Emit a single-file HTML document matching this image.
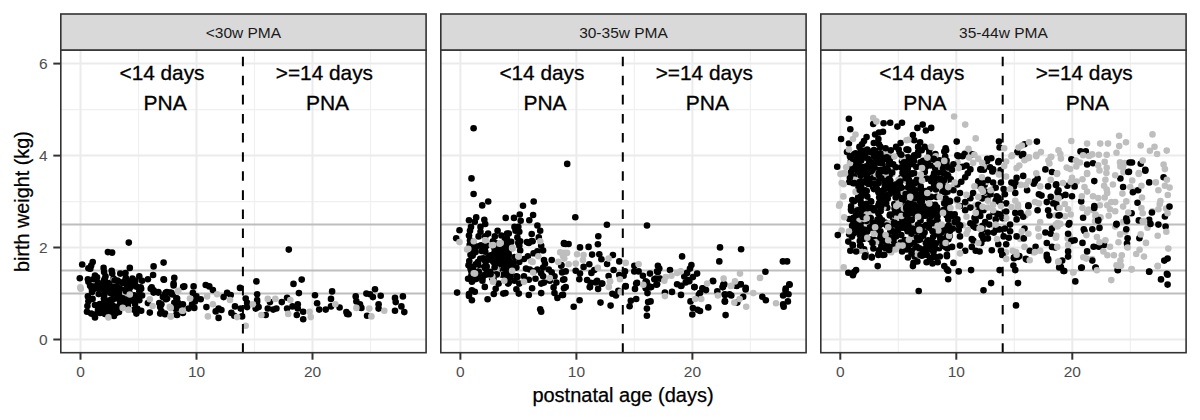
<!DOCTYPE html>
<html><head><meta charset="utf-8"><style>
html,body{margin:0;padding:0;background:#fff;width:1200px;height:420px;overflow:hidden}
svg{display:block}
text{font-family:"Liberation Sans",sans-serif}
</style></head><body>
<svg width="1200" height="420" viewBox="0 0 1200 420">
<rect width="1200" height="420" fill="#fff"/>
<line x1="138.5" y1="50.0" x2="138.5" y2="352.7" stroke="#F0F0F0" stroke-width="1.2"/>
<line x1="254.5" y1="50.0" x2="254.5" y2="352.7" stroke="#F0F0F0" stroke-width="1.2"/>
<line x1="370.5" y1="50.0" x2="370.5" y2="352.7" stroke="#F0F0F0" stroke-width="1.2"/>
<line x1="60.8" y1="293.5" x2="426.1" y2="293.5" stroke="#F0F0F0" stroke-width="1.2"/>
<line x1="60.8" y1="201.6" x2="426.1" y2="201.6" stroke="#F0F0F0" stroke-width="1.2"/>
<line x1="60.8" y1="109.6" x2="426.1" y2="109.6" stroke="#F0F0F0" stroke-width="1.2"/>
<line x1="80.5" y1="50.0" x2="80.5" y2="352.7" stroke="#EBEBEB" stroke-width="2"/>
<line x1="196.5" y1="50.0" x2="196.5" y2="352.7" stroke="#EBEBEB" stroke-width="2"/>
<line x1="312.5" y1="50.0" x2="312.5" y2="352.7" stroke="#EBEBEB" stroke-width="2"/>
<line x1="60.8" y1="339.5" x2="426.1" y2="339.5" stroke="#EBEBEB" stroke-width="2"/>
<line x1="60.8" y1="247.5" x2="426.1" y2="247.5" stroke="#EBEBEB" stroke-width="2"/>
<line x1="60.8" y1="155.6" x2="426.1" y2="155.6" stroke="#EBEBEB" stroke-width="2"/>
<line x1="60.8" y1="63.6" x2="426.1" y2="63.6" stroke="#EBEBEB" stroke-width="2"/>
<line x1="60.8" y1="293.5" x2="426.1" y2="293.5" stroke="#BEBEBE" stroke-width="2"/>
<line x1="60.8" y1="270.5" x2="426.1" y2="270.5" stroke="#BEBEBE" stroke-width="2"/>
<line x1="60.8" y1="224.6" x2="426.1" y2="224.6" stroke="#BEBEBE" stroke-width="2"/>
<g id="pts0"></g>
<circle cx="96.4" cy="288.3" r="3.3" fill="#000"/>
<circle cx="90.1" cy="285.8" r="3.3" fill="#000"/>
<circle cx="124.5" cy="282.6" r="3.3" fill="#000"/>
<circle cx="113.6" cy="278.6" r="3.3" fill="#000"/>
<circle cx="92.6" cy="289.2" r="3.3" fill="#000"/>
<circle cx="100.8" cy="289.6" r="3.3" fill="#000"/>
<circle cx="110.1" cy="283.9" r="3.3" fill="#000"/>
<circle cx="132.3" cy="299.3" r="3.3" fill="#000"/>
<circle cx="104.0" cy="298.7" r="3.3" fill="#000"/>
<circle cx="99.9" cy="284.8" r="3.3" fill="#000"/>
<circle cx="123.9" cy="286.8" r="3.3" fill="#BEBEBE"/>
<circle cx="113.6" cy="298.9" r="3.3" fill="#000"/>
<circle cx="125.2" cy="292.3" r="3.3" fill="#000"/>
<circle cx="107.8" cy="300.8" r="3.3" fill="#000"/>
<circle cx="95.1" cy="288.7" r="3.3" fill="#000"/>
<circle cx="136.6" cy="286.7" r="3.3" fill="#000"/>
<circle cx="115.0" cy="285.2" r="3.3" fill="#000"/>
<circle cx="103.1" cy="283.8" r="3.3" fill="#000"/>
<circle cx="110.7" cy="300.0" r="3.3" fill="#000"/>
<circle cx="122.0" cy="290.0" r="3.3" fill="#000"/>
<circle cx="121.8" cy="292.3" r="3.3" fill="#000"/>
<circle cx="128.1" cy="282.9" r="3.3" fill="#BEBEBE"/>
<circle cx="92.8" cy="286.5" r="3.3" fill="#000"/>
<circle cx="132.4" cy="278.5" r="3.3" fill="#000"/>
<circle cx="106.1" cy="288.4" r="3.3" fill="#000"/>
<circle cx="122.8" cy="282.9" r="3.3" fill="#000"/>
<circle cx="124.5" cy="281.3" r="3.3" fill="#000"/>
<circle cx="111.0" cy="293.4" r="3.3" fill="#000"/>
<circle cx="93.3" cy="279.2" r="3.3" fill="#000"/>
<circle cx="103.4" cy="283.1" r="3.3" fill="#000"/>
<circle cx="118.8" cy="299.1" r="3.3" fill="#000"/>
<circle cx="92.6" cy="298.9" r="3.3" fill="#000"/>
<circle cx="97.9" cy="282.6" r="3.3" fill="#000"/>
<circle cx="104.7" cy="292.9" r="3.3" fill="#000"/>
<circle cx="117.6" cy="287.7" r="3.3" fill="#000"/>
<circle cx="134.1" cy="295.2" r="3.3" fill="#000"/>
<circle cx="116.1" cy="291.3" r="3.3" fill="#000"/>
<circle cx="117.4" cy="280.6" r="3.3" fill="#000"/>
<circle cx="125.9" cy="299.3" r="3.3" fill="#000"/>
<circle cx="112.9" cy="293.7" r="3.3" fill="#000"/>
<circle cx="91.7" cy="288.4" r="3.3" fill="#000"/>
<circle cx="98.3" cy="294.1" r="3.3" fill="#BEBEBE"/>
<circle cx="126.0" cy="292.7" r="3.3" fill="#000"/>
<circle cx="121.0" cy="299.0" r="3.3" fill="#000"/>
<circle cx="114.2" cy="281.2" r="3.3" fill="#000"/>
<circle cx="104.2" cy="295.3" r="3.3" fill="#000"/>
<circle cx="98.8" cy="294.0" r="3.3" fill="#000"/>
<circle cx="106.3" cy="286.8" r="3.3" fill="#000"/>
<circle cx="107.2" cy="289.2" r="3.3" fill="#000"/>
<circle cx="100.8" cy="287.2" r="3.3" fill="#000"/>
<circle cx="110.2" cy="291.1" r="3.3" fill="#000"/>
<circle cx="104.0" cy="280.8" r="3.3" fill="#000"/>
<circle cx="132.0" cy="281.3" r="3.3" fill="#000"/>
<circle cx="92.0" cy="291.9" r="3.3" fill="#000"/>
<circle cx="97.4" cy="287.8" r="3.3" fill="#000"/>
<circle cx="110.7" cy="288.0" r="3.3" fill="#000"/>
<circle cx="136.2" cy="297.4" r="3.3" fill="#000"/>
<circle cx="135.4" cy="280.7" r="3.3" fill="#000"/>
<circle cx="119.2" cy="297.8" r="3.3" fill="#000"/>
<circle cx="112.7" cy="289.3" r="3.3" fill="#000"/>
<circle cx="134.7" cy="284.8" r="3.3" fill="#000"/>
<circle cx="134.9" cy="284.0" r="3.3" fill="#000"/>
<circle cx="104.1" cy="298.2" r="3.3" fill="#000"/>
<circle cx="116.7" cy="297.2" r="3.3" fill="#000"/>
<circle cx="129.3" cy="292.0" r="3.3" fill="#000"/>
<circle cx="125.8" cy="277.7" r="3.3" fill="#000"/>
<circle cx="136.4" cy="299.6" r="3.3" fill="#000"/>
<circle cx="119.5" cy="288.3" r="3.3" fill="#000"/>
<circle cx="130.5" cy="296.5" r="3.3" fill="#000"/>
<circle cx="120.1" cy="295.4" r="3.3" fill="#000"/>
<circle cx="110.9" cy="282.9" r="3.3" fill="#000"/>
<circle cx="115.3" cy="282.8" r="3.3" fill="#000"/>
<circle cx="114.9" cy="284.1" r="3.3" fill="#000"/>
<circle cx="105.7" cy="282.1" r="3.3" fill="#000"/>
<circle cx="113.6" cy="280.4" r="3.3" fill="#BEBEBE"/>
<circle cx="109.0" cy="283.6" r="3.3" fill="#000"/>
<circle cx="127.4" cy="284.6" r="3.3" fill="#000"/>
<circle cx="94.8" cy="286.5" r="3.3" fill="#000"/>
<circle cx="125.4" cy="293.3" r="3.3" fill="#BEBEBE"/>
<circle cx="131.7" cy="283.2" r="3.3" fill="#000"/>
<circle cx="163.6" cy="279.3" r="3.3" fill="#000"/>
<circle cx="174.3" cy="277.9" r="3.3" fill="#000"/>
<circle cx="173.6" cy="283.6" r="3.3" fill="#000"/>
<circle cx="184.3" cy="286.4" r="3.3" fill="#000"/>
<circle cx="193.6" cy="286.4" r="3.3" fill="#000"/>
<circle cx="205.7" cy="285.0" r="3.3" fill="#000"/>
<circle cx="209.3" cy="286.4" r="3.3" fill="#000"/>
<circle cx="212.9" cy="290.0" r="3.3" fill="#000"/>
<circle cx="240.0" cy="287.9" r="3.3" fill="#000"/>
<circle cx="227.1" cy="292.9" r="3.3" fill="#000"/>
<circle cx="230.7" cy="295.0" r="3.3" fill="#000"/>
<circle cx="223.6" cy="297.1" r="3.3" fill="#000"/>
<circle cx="256.4" cy="281.4" r="3.3" fill="#000"/>
<circle cx="206.4" cy="307.1" r="3.3" fill="#000"/>
<circle cx="218.6" cy="308.6" r="3.3" fill="#000"/>
<circle cx="215.7" cy="311.4" r="3.3" fill="#000"/>
<circle cx="221.4" cy="310.0" r="3.3" fill="#000"/>
<circle cx="218.6" cy="317.9" r="3.3" fill="#000"/>
<circle cx="235.0" cy="306.4" r="3.3" fill="#000"/>
<circle cx="231.4" cy="312.9" r="3.3" fill="#000"/>
<circle cx="234.3" cy="315.7" r="3.3" fill="#000"/>
<circle cx="240.7" cy="308.6" r="3.3" fill="#000"/>
<circle cx="242.1" cy="316.4" r="3.3" fill="#000"/>
<circle cx="245.7" cy="298.6" r="3.3" fill="#000"/>
<circle cx="247.1" cy="302.9" r="3.3" fill="#000"/>
<circle cx="247.1" cy="307.1" r="3.3" fill="#000"/>
<circle cx="255.7" cy="308.6" r="3.3" fill="#000"/>
<circle cx="258.6" cy="307.1" r="3.3" fill="#000"/>
<circle cx="257.1" cy="294.3" r="3.3" fill="#000"/>
<circle cx="257.1" cy="300.0" r="3.3" fill="#000"/>
<circle cx="165.7" cy="292.9" r="3.3" fill="#000"/>
<circle cx="171.4" cy="292.9" r="3.3" fill="#000"/>
<circle cx="162.9" cy="297.1" r="3.3" fill="#000"/>
<circle cx="167.1" cy="298.6" r="3.3" fill="#000"/>
<circle cx="177.1" cy="298.6" r="3.3" fill="#000"/>
<circle cx="192.9" cy="292.9" r="3.3" fill="#000"/>
<circle cx="196.4" cy="296.4" r="3.3" fill="#000"/>
<circle cx="200.7" cy="299.3" r="3.3" fill="#000"/>
<circle cx="195.0" cy="301.4" r="3.3" fill="#000"/>
<circle cx="192.1" cy="304.3" r="3.3" fill="#000"/>
<circle cx="194.3" cy="307.9" r="3.3" fill="#000"/>
<circle cx="188.6" cy="308.6" r="3.3" fill="#000"/>
<circle cx="174.3" cy="302.9" r="3.3" fill="#000"/>
<circle cx="178.6" cy="304.3" r="3.3" fill="#000"/>
<circle cx="182.9" cy="304.3" r="3.3" fill="#000"/>
<circle cx="175.7" cy="307.9" r="3.3" fill="#000"/>
<circle cx="180.0" cy="308.6" r="3.3" fill="#000"/>
<circle cx="161.4" cy="304.3" r="3.3" fill="#000"/>
<circle cx="161.4" cy="311.4" r="3.3" fill="#000"/>
<circle cx="165.0" cy="314.3" r="3.3" fill="#000"/>
<circle cx="177.1" cy="315.0" r="3.3" fill="#000"/>
<circle cx="182.9" cy="312.9" r="3.3" fill="#000"/>
<circle cx="288.8" cy="249.6" r="3.3" fill="#000"/>
<circle cx="301.7" cy="279.6" r="3.3" fill="#000"/>
<circle cx="293.5" cy="283.9" r="3.3" fill="#000"/>
<circle cx="298.9" cy="293.1" r="3.3" fill="#000"/>
<circle cx="315.0" cy="295.2" r="3.3" fill="#000"/>
<circle cx="332.1" cy="291.4" r="3.3" fill="#000"/>
<circle cx="331.0" cy="298.9" r="3.3" fill="#000"/>
<circle cx="257.1" cy="302.1" r="3.3" fill="#000"/>
<circle cx="270.0" cy="302.1" r="3.3" fill="#000"/>
<circle cx="267.8" cy="308.5" r="3.3" fill="#000"/>
<circle cx="265.7" cy="315.0" r="3.3" fill="#000"/>
<circle cx="276.4" cy="308.5" r="3.3" fill="#000"/>
<circle cx="273.2" cy="309.6" r="3.3" fill="#000"/>
<circle cx="281.8" cy="302.1" r="3.3" fill="#000"/>
<circle cx="287.1" cy="297.8" r="3.3" fill="#000"/>
<circle cx="287.1" cy="308.5" r="3.3" fill="#000"/>
<circle cx="292.5" cy="306.4" r="3.3" fill="#000"/>
<circle cx="297.8" cy="304.2" r="3.3" fill="#000"/>
<circle cx="297.8" cy="308.5" r="3.3" fill="#000"/>
<circle cx="296.8" cy="315.0" r="3.3" fill="#000"/>
<circle cx="303.2" cy="311.7" r="3.3" fill="#000"/>
<circle cx="303.2" cy="319.2" r="3.3" fill="#000"/>
<circle cx="317.1" cy="303.2" r="3.3" fill="#000"/>
<circle cx="319.2" cy="309.6" r="3.3" fill="#000"/>
<circle cx="325.7" cy="309.6" r="3.3" fill="#000"/>
<circle cx="331.0" cy="306.4" r="3.3" fill="#000"/>
<circle cx="339.6" cy="307.5" r="3.3" fill="#000"/>
<circle cx="347.1" cy="313.9" r="3.3" fill="#000"/>
<circle cx="346.4" cy="312.1" r="3.3" fill="#000"/>
<circle cx="348.6" cy="314.3" r="3.3" fill="#000"/>
<circle cx="355.7" cy="296.4" r="3.3" fill="#000"/>
<circle cx="356.4" cy="301.4" r="3.3" fill="#000"/>
<circle cx="360.0" cy="304.3" r="3.3" fill="#000"/>
<circle cx="361.4" cy="307.9" r="3.3" fill="#000"/>
<circle cx="366.4" cy="293.6" r="3.3" fill="#000"/>
<circle cx="370.0" cy="294.3" r="3.3" fill="#000"/>
<circle cx="372.9" cy="297.1" r="3.3" fill="#000"/>
<circle cx="375.0" cy="289.3" r="3.3" fill="#000"/>
<circle cx="380.7" cy="295.7" r="3.3" fill="#000"/>
<circle cx="378.6" cy="304.3" r="3.3" fill="#000"/>
<circle cx="378.6" cy="308.6" r="3.3" fill="#000"/>
<circle cx="367.1" cy="315.7" r="3.3" fill="#000"/>
<circle cx="395.0" cy="297.9" r="3.3" fill="#000"/>
<circle cx="395.7" cy="302.1" r="3.3" fill="#000"/>
<circle cx="402.9" cy="296.4" r="3.3" fill="#000"/>
<circle cx="401.4" cy="306.4" r="3.3" fill="#000"/>
<circle cx="395.0" cy="310.7" r="3.3" fill="#000"/>
<circle cx="404.3" cy="312.1" r="3.3" fill="#000"/>
<circle cx="82.2" cy="264.5" r="3.3" fill="#000"/>
<circle cx="92.7" cy="262.1" r="3.3" fill="#000"/>
<circle cx="91.2" cy="265.5" r="3.3" fill="#000"/>
<circle cx="88.4" cy="268.3" r="3.3" fill="#000"/>
<circle cx="90.3" cy="268.8" r="3.3" fill="#000"/>
<circle cx="103.6" cy="267.9" r="3.3" fill="#000"/>
<circle cx="104.1" cy="272.1" r="3.3" fill="#000"/>
<circle cx="111.7" cy="270.7" r="3.3" fill="#000"/>
<circle cx="112.2" cy="273.6" r="3.3" fill="#000"/>
<circle cx="120.3" cy="273.6" r="3.3" fill="#000"/>
<circle cx="125.5" cy="273.1" r="3.3" fill="#000"/>
<circle cx="129.8" cy="267.9" r="3.3" fill="#000"/>
<circle cx="79.8" cy="278.3" r="3.3" fill="#000"/>
<circle cx="87.9" cy="279.3" r="3.3" fill="#000"/>
<circle cx="88.4" cy="281.7" r="3.3" fill="#000"/>
<circle cx="95.0" cy="275.5" r="3.3" fill="#000"/>
<circle cx="97.0" cy="277.4" r="3.3" fill="#000"/>
<circle cx="105.5" cy="276.4" r="3.3" fill="#000"/>
<circle cx="104.6" cy="279.3" r="3.3" fill="#000"/>
<circle cx="114.6" cy="280.2" r="3.3" fill="#000"/>
<circle cx="118.9" cy="281.7" r="3.3" fill="#000"/>
<circle cx="127.9" cy="281.2" r="3.3" fill="#000"/>
<circle cx="87.9" cy="296.4" r="3.3" fill="#000"/>
<circle cx="88.4" cy="301.2" r="3.3" fill="#000"/>
<circle cx="87.4" cy="306.0" r="3.3" fill="#000"/>
<circle cx="87.0" cy="311.7" r="3.3" fill="#000"/>
<circle cx="91.2" cy="313.6" r="3.3" fill="#000"/>
<circle cx="95.0" cy="317.4" r="3.3" fill="#000"/>
<circle cx="94.1" cy="314.5" r="3.3" fill="#000"/>
<circle cx="95.0" cy="305.0" r="3.3" fill="#000"/>
<circle cx="99.8" cy="304.0" r="3.3" fill="#000"/>
<circle cx="103.6" cy="303.1" r="3.3" fill="#000"/>
<circle cx="103.6" cy="309.8" r="3.3" fill="#000"/>
<circle cx="101.7" cy="306.9" r="3.3" fill="#000"/>
<circle cx="109.3" cy="303.1" r="3.3" fill="#000"/>
<circle cx="112.2" cy="305.0" r="3.3" fill="#000"/>
<circle cx="115.0" cy="306.9" r="3.3" fill="#000"/>
<circle cx="116.0" cy="311.7" r="3.3" fill="#000"/>
<circle cx="113.1" cy="314.5" r="3.3" fill="#000"/>
<circle cx="117.9" cy="308.8" r="3.3" fill="#000"/>
<circle cx="107.4" cy="306.0" r="3.3" fill="#000"/>
<circle cx="123.6" cy="302.1" r="3.3" fill="#000"/>
<circle cx="127.4" cy="305.0" r="3.3" fill="#000"/>
<circle cx="129.3" cy="301.2" r="3.3" fill="#000"/>
<circle cx="134.1" cy="309.8" r="3.3" fill="#000"/>
<circle cx="135.0" cy="304.0" r="3.3" fill="#000"/>
<circle cx="122.7" cy="298.3" r="3.3" fill="#000"/>
<circle cx="133.1" cy="298.3" r="3.3" fill="#000"/>
<circle cx="153.6" cy="266.4" r="3.3" fill="#000"/>
<circle cx="163.6" cy="262.6" r="3.3" fill="#000"/>
<circle cx="139.3" cy="276.4" r="3.3" fill="#000"/>
<circle cx="153.1" cy="275.0" r="3.3" fill="#000"/>
<circle cx="147.9" cy="279.3" r="3.3" fill="#000"/>
<circle cx="142.1" cy="280.7" r="3.3" fill="#000"/>
<circle cx="164.0" cy="279.8" r="3.3" fill="#000"/>
<circle cx="128.8" cy="287.4" r="3.3" fill="#000"/>
<circle cx="126.0" cy="291.2" r="3.3" fill="#000"/>
<circle cx="140.7" cy="287.4" r="3.3" fill="#000"/>
<circle cx="139.3" cy="291.2" r="3.3" fill="#000"/>
<circle cx="151.7" cy="287.4" r="3.3" fill="#000"/>
<circle cx="153.6" cy="290.2" r="3.3" fill="#000"/>
<circle cx="158.3" cy="292.1" r="3.3" fill="#000"/>
<circle cx="166.9" cy="292.1" r="3.3" fill="#000"/>
<circle cx="126.9" cy="287.9" r="3.3" fill="#000"/>
<circle cx="130.7" cy="286.9" r="3.3" fill="#000"/>
<circle cx="126.9" cy="301.2" r="3.3" fill="#000"/>
<circle cx="127.9" cy="306.0" r="3.3" fill="#000"/>
<circle cx="137.4" cy="296.4" r="3.3" fill="#000"/>
<circle cx="139.3" cy="300.2" r="3.3" fill="#000"/>
<circle cx="142.1" cy="295.5" r="3.3" fill="#000"/>
<circle cx="141.2" cy="288.8" r="3.3" fill="#000"/>
<circle cx="137.4" cy="308.8" r="3.3" fill="#000"/>
<circle cx="141.2" cy="310.7" r="3.3" fill="#000"/>
<circle cx="136.4" cy="313.6" r="3.3" fill="#000"/>
<circle cx="147.9" cy="303.1" r="3.3" fill="#000"/>
<circle cx="149.8" cy="312.6" r="3.3" fill="#000"/>
<circle cx="150.7" cy="288.8" r="3.3" fill="#000"/>
<circle cx="153.6" cy="292.6" r="3.3" fill="#000"/>
<circle cx="158.3" cy="292.6" r="3.3" fill="#000"/>
<circle cx="159.3" cy="303.1" r="3.3" fill="#000"/>
<circle cx="160.2" cy="306.9" r="3.3" fill="#000"/>
<circle cx="160.2" cy="313.6" r="3.3" fill="#000"/>
<circle cx="165.0" cy="313.6" r="3.3" fill="#000"/>
<circle cx="165.0" cy="294.5" r="3.3" fill="#000"/>
<circle cx="169.8" cy="292.6" r="3.3" fill="#000"/>
<circle cx="172.6" cy="294.5" r="3.3" fill="#000"/>
<circle cx="166.0" cy="299.3" r="3.3" fill="#000"/>
<circle cx="176.4" cy="298.3" r="3.3" fill="#000"/>
<circle cx="178.3" cy="303.1" r="3.3" fill="#000"/>
<circle cx="182.1" cy="305.0" r="3.3" fill="#000"/>
<circle cx="175.5" cy="308.8" r="3.3" fill="#000"/>
<circle cx="176.4" cy="314.5" r="3.3" fill="#000"/>
<circle cx="173.6" cy="285.5" r="3.3" fill="#000"/>
<circle cx="183.1" cy="286.9" r="3.3" fill="#000"/>
<circle cx="128.8" cy="242.6" r="3.3" fill="#000"/>
<circle cx="107.9" cy="252.1" r="3.3" fill="#000"/>
<circle cx="112.1" cy="252.6" r="3.3" fill="#000"/>
<circle cx="103.0" cy="310.0" r="3.3" fill="#000"/>
<circle cx="106.0" cy="312.0" r="3.3" fill="#000"/>
<circle cx="110.0" cy="310.0" r="3.3" fill="#000"/>
<circle cx="112.0" cy="313.0" r="3.3" fill="#000"/>
<circle cx="114.0" cy="316.0" r="3.3" fill="#000"/>
<circle cx="116.0" cy="313.0" r="3.3" fill="#000"/>
<circle cx="119.0" cy="312.0" r="3.3" fill="#000"/>
<circle cx="98.0" cy="310.0" r="3.3" fill="#000"/>
<circle cx="100.0" cy="313.0" r="3.3" fill="#000"/>
<circle cx="105.0" cy="314.0" r="3.3" fill="#000"/>
<circle cx="120.0" cy="304.0" r="3.3" fill="#000"/>
<circle cx="207.1" cy="296.4" r="3.3" fill="#BEBEBE"/>
<circle cx="217.1" cy="294.3" r="3.3" fill="#BEBEBE"/>
<circle cx="230.0" cy="300.0" r="3.3" fill="#BEBEBE"/>
<circle cx="212.9" cy="304.3" r="3.3" fill="#BEBEBE"/>
<circle cx="207.9" cy="316.4" r="3.3" fill="#BEBEBE"/>
<circle cx="237.1" cy="317.1" r="3.3" fill="#BEBEBE"/>
<circle cx="252.9" cy="304.3" r="3.3" fill="#BEBEBE"/>
<circle cx="245.7" cy="325.7" r="3.3" fill="#BEBEBE"/>
<circle cx="177.9" cy="291.4" r="3.3" fill="#BEBEBE"/>
<circle cx="190.0" cy="298.6" r="3.3" fill="#BEBEBE"/>
<circle cx="170.7" cy="307.9" r="3.3" fill="#BEBEBE"/>
<circle cx="182.9" cy="310.7" r="3.3" fill="#BEBEBE"/>
<circle cx="170.7" cy="316.4" r="3.3" fill="#BEBEBE"/>
<circle cx="267.8" cy="298.9" r="3.3" fill="#BEBEBE"/>
<circle cx="275.3" cy="298.9" r="3.3" fill="#BEBEBE"/>
<circle cx="261.4" cy="315.0" r="3.3" fill="#BEBEBE"/>
<circle cx="290.3" cy="300.0" r="3.3" fill="#BEBEBE"/>
<circle cx="288.2" cy="313.9" r="3.3" fill="#BEBEBE"/>
<circle cx="309.6" cy="311.7" r="3.3" fill="#BEBEBE"/>
<circle cx="310.7" cy="317.1" r="3.3" fill="#BEBEBE"/>
<circle cx="335.3" cy="304.2" r="3.3" fill="#BEBEBE"/>
<circle cx="356.4" cy="307.9" r="3.3" fill="#BEBEBE"/>
<circle cx="369.3" cy="308.6" r="3.3" fill="#BEBEBE"/>
<circle cx="384.3" cy="310.7" r="3.3" fill="#BEBEBE"/>
<circle cx="371.4" cy="316.4" r="3.3" fill="#BEBEBE"/>
<circle cx="80.3" cy="287.4" r="3.3" fill="#BEBEBE"/>
<circle cx="108.4" cy="317.4" r="3.3" fill="#BEBEBE"/>
<circle cx="80.8" cy="288.8" r="3.3" fill="#BEBEBE"/>
<circle cx="122.7" cy="307.9" r="3.3" fill="#BEBEBE"/>
<circle cx="128.4" cy="309.8" r="3.3" fill="#BEBEBE"/>
<circle cx="129.8" cy="294.5" r="3.3" fill="#BEBEBE"/>
<circle cx="128.8" cy="309.8" r="3.3" fill="#BEBEBE"/>
<circle cx="149.8" cy="299.3" r="3.3" fill="#BEBEBE"/>
<circle cx="152.6" cy="306.0" r="3.3" fill="#BEBEBE"/>
<circle cx="169.8" cy="306.9" r="3.3" fill="#BEBEBE"/>
<circle cx="170.7" cy="316.4" r="3.3" fill="#BEBEBE"/>
<circle cx="182.1" cy="310.7" r="3.3" fill="#BEBEBE"/>
<circle cx="178.3" cy="290.7" r="3.3" fill="#BEBEBE"/>
<line x1="242.9" y1="352.7" x2="242.9" y2="50.0" stroke="#000" stroke-width="2" stroke-dasharray="9.55 9.55"/>
<text x="162.0" y="79.6" text-anchor="middle" font-size="20.8" fill="#000" stroke="#000" stroke-width="0.3">&lt;14 days</text>
<text x="165.1" y="110.2" text-anchor="middle" font-size="21" fill="#000" stroke="#000" stroke-width="0.3">PNA</text>
<text x="324.4" y="79.6" text-anchor="middle" font-size="20.8" fill="#000" stroke="#000" stroke-width="0.3">&gt;=14 days</text>
<text x="327.5" y="110.2" text-anchor="middle" font-size="21" fill="#000" stroke="#000" stroke-width="0.3">PNA</text>
<rect x="60.8" y="50.0" width="365.3" height="302.7" fill="none" stroke="#333" stroke-width="1.6"/>
<rect x="60.8" y="14.0" width="365.3" height="36.0" fill="#D9D9D9" stroke="#333" stroke-width="1.6"/>
<text x="243.4" y="37.8" text-anchor="middle" font-size="15.5" fill="#1A1A1A">&lt;30w PMA</text>
<line x1="80.5" y1="352.7" x2="80.5" y2="359.7" stroke="#333" stroke-width="2"/>
<text x="80.5" y="376.6" text-anchor="middle" font-size="15.5" fill="#4D4D4D">0</text>
<line x1="196.5" y1="352.7" x2="196.5" y2="359.7" stroke="#333" stroke-width="2"/>
<text x="196.5" y="376.6" text-anchor="middle" font-size="15.5" fill="#4D4D4D">10</text>
<line x1="312.5" y1="352.7" x2="312.5" y2="359.7" stroke="#333" stroke-width="2"/>
<text x="312.5" y="376.6" text-anchor="middle" font-size="15.5" fill="#4D4D4D">20</text>
<line x1="518.4" y1="50.0" x2="518.4" y2="352.7" stroke="#F0F0F0" stroke-width="1.2"/>
<line x1="634.4" y1="50.0" x2="634.4" y2="352.7" stroke="#F0F0F0" stroke-width="1.2"/>
<line x1="750.4" y1="50.0" x2="750.4" y2="352.7" stroke="#F0F0F0" stroke-width="1.2"/>
<line x1="440.8" y1="293.5" x2="806.1" y2="293.5" stroke="#F0F0F0" stroke-width="1.2"/>
<line x1="440.8" y1="201.6" x2="806.1" y2="201.6" stroke="#F0F0F0" stroke-width="1.2"/>
<line x1="440.8" y1="109.6" x2="806.1" y2="109.6" stroke="#F0F0F0" stroke-width="1.2"/>
<line x1="460.4" y1="50.0" x2="460.4" y2="352.7" stroke="#EBEBEB" stroke-width="2"/>
<line x1="576.4" y1="50.0" x2="576.4" y2="352.7" stroke="#EBEBEB" stroke-width="2"/>
<line x1="692.4" y1="50.0" x2="692.4" y2="352.7" stroke="#EBEBEB" stroke-width="2"/>
<line x1="440.8" y1="339.5" x2="806.1" y2="339.5" stroke="#EBEBEB" stroke-width="2"/>
<line x1="440.8" y1="247.5" x2="806.1" y2="247.5" stroke="#EBEBEB" stroke-width="2"/>
<line x1="440.8" y1="155.6" x2="806.1" y2="155.6" stroke="#EBEBEB" stroke-width="2"/>
<line x1="440.8" y1="63.6" x2="806.1" y2="63.6" stroke="#EBEBEB" stroke-width="2"/>
<line x1="440.8" y1="293.5" x2="806.1" y2="293.5" stroke="#BEBEBE" stroke-width="2"/>
<line x1="440.8" y1="270.5" x2="806.1" y2="270.5" stroke="#BEBEBE" stroke-width="2"/>
<line x1="440.8" y1="224.6" x2="806.1" y2="224.6" stroke="#BEBEBE" stroke-width="2"/>
<g id="pts1"></g>
<circle cx="469.3" cy="261.1" r="3.3" fill="#000"/>
<circle cx="478.4" cy="274.6" r="3.3" fill="#000"/>
<circle cx="480.6" cy="267.9" r="3.3" fill="#000"/>
<circle cx="496.8" cy="250.6" r="3.3" fill="#000"/>
<circle cx="470.6" cy="268.7" r="3.3" fill="#000"/>
<circle cx="470.5" cy="254.7" r="3.3" fill="#000"/>
<circle cx="475.1" cy="279.3" r="3.3" fill="#000"/>
<circle cx="499.1" cy="245.3" r="3.3" fill="#000"/>
<circle cx="468.5" cy="265.3" r="3.3" fill="#000"/>
<circle cx="484.5" cy="266.7" r="3.3" fill="#000"/>
<circle cx="498.9" cy="258.6" r="3.3" fill="#000"/>
<circle cx="488.1" cy="273.8" r="3.3" fill="#000"/>
<circle cx="470.8" cy="247.4" r="3.3" fill="#000"/>
<circle cx="493.5" cy="261.9" r="3.3" fill="#000"/>
<circle cx="482.2" cy="268.3" r="3.3" fill="#000"/>
<circle cx="472.7" cy="255.6" r="3.3" fill="#000"/>
<circle cx="476.5" cy="278.8" r="3.3" fill="#000"/>
<circle cx="502.4" cy="251.2" r="3.3" fill="#000"/>
<circle cx="480.8" cy="271.0" r="3.3" fill="#BEBEBE"/>
<circle cx="506.8" cy="270.7" r="3.3" fill="#000"/>
<circle cx="507.5" cy="257.1" r="3.3" fill="#BEBEBE"/>
<circle cx="480.6" cy="245.5" r="3.3" fill="#000"/>
<circle cx="497.7" cy="270.4" r="3.3" fill="#000"/>
<circle cx="494.5" cy="252.3" r="3.3" fill="#000"/>
<circle cx="495.9" cy="253.7" r="3.3" fill="#000"/>
<circle cx="475.4" cy="247.6" r="3.3" fill="#000"/>
<circle cx="499.1" cy="260.4" r="3.3" fill="#000"/>
<circle cx="473.6" cy="270.7" r="3.3" fill="#000"/>
<circle cx="507.9" cy="270.9" r="3.3" fill="#000"/>
<circle cx="506.4" cy="261.9" r="3.3" fill="#000"/>
<circle cx="503.6" cy="260.1" r="3.3" fill="#000"/>
<circle cx="475.8" cy="264.3" r="3.3" fill="#000"/>
<circle cx="499.2" cy="263.4" r="3.3" fill="#000"/>
<circle cx="497.3" cy="270.4" r="3.3" fill="#000"/>
<circle cx="484.8" cy="259.6" r="3.3" fill="#000"/>
<circle cx="487.0" cy="271.0" r="3.3" fill="#000"/>
<circle cx="503.4" cy="250.8" r="3.3" fill="#000"/>
<circle cx="503.8" cy="268.5" r="3.3" fill="#000"/>
<circle cx="471.4" cy="275.4" r="3.3" fill="#000"/>
<circle cx="502.0" cy="252.4" r="3.3" fill="#000"/>
<circle cx="484.3" cy="275.1" r="3.3" fill="#000"/>
<circle cx="499.4" cy="252.5" r="3.3" fill="#000"/>
<circle cx="507.4" cy="269.9" r="3.3" fill="#000"/>
<circle cx="477.9" cy="262.1" r="3.3" fill="#000"/>
<circle cx="502.2" cy="274.7" r="3.3" fill="#000"/>
<circle cx="481.9" cy="251.2" r="3.3" fill="#BEBEBE"/>
<circle cx="476.7" cy="276.5" r="3.3" fill="#000"/>
<circle cx="503.9" cy="266.1" r="3.3" fill="#000"/>
<circle cx="495.2" cy="243.0" r="3.3" fill="#000"/>
<circle cx="470.9" cy="266.5" r="3.3" fill="#000"/>
<circle cx="498.6" cy="264.4" r="3.3" fill="#000"/>
<circle cx="470.7" cy="267.3" r="3.3" fill="#000"/>
<circle cx="491.2" cy="271.8" r="3.3" fill="#000"/>
<circle cx="485.5" cy="261.6" r="3.3" fill="#000"/>
<circle cx="486.7" cy="274.4" r="3.3" fill="#000"/>
<circle cx="497.7" cy="274.4" r="3.3" fill="#BEBEBE"/>
<circle cx="485.7" cy="261.6" r="3.3" fill="#000"/>
<circle cx="489.9" cy="257.8" r="3.3" fill="#BEBEBE"/>
<circle cx="497.7" cy="274.0" r="3.3" fill="#BEBEBE"/>
<circle cx="502.4" cy="246.4" r="3.3" fill="#000"/>
<circle cx="503.0" cy="263.6" r="3.3" fill="#000"/>
<circle cx="496.8" cy="274.0" r="3.3" fill="#000"/>
<circle cx="503.4" cy="250.1" r="3.3" fill="#000"/>
<circle cx="472.7" cy="249.1" r="3.3" fill="#000"/>
<circle cx="481.4" cy="245.6" r="3.3" fill="#000"/>
<circle cx="507.4" cy="278.3" r="3.3" fill="#000"/>
<circle cx="502.8" cy="247.4" r="3.3" fill="#000"/>
<circle cx="483.3" cy="258.2" r="3.3" fill="#000"/>
<circle cx="485.3" cy="251.7" r="3.3" fill="#000"/>
<circle cx="493.5" cy="279.0" r="3.3" fill="#000"/>
<circle cx="471.2" cy="270.8" r="3.3" fill="#000"/>
<circle cx="502.1" cy="250.9" r="3.3" fill="#000"/>
<circle cx="506.0" cy="279.6" r="3.3" fill="#000"/>
<circle cx="496.5" cy="269.4" r="3.3" fill="#BEBEBE"/>
<circle cx="480.2" cy="258.7" r="3.3" fill="#000"/>
<circle cx="473.1" cy="248.4" r="3.3" fill="#000"/>
<circle cx="473.6" cy="276.2" r="3.3" fill="#000"/>
<circle cx="471.5" cy="255.7" r="3.3" fill="#000"/>
<circle cx="498.8" cy="247.2" r="3.3" fill="#000"/>
<circle cx="502.4" cy="254.9" r="3.3" fill="#000"/>
<circle cx="505.1" cy="268.4" r="3.3" fill="#000"/>
<circle cx="493.1" cy="244.3" r="3.3" fill="#000"/>
<circle cx="472.1" cy="279.9" r="3.3" fill="#000"/>
<circle cx="509.9" cy="263.5" r="3.3" fill="#000"/>
<circle cx="494.0" cy="247.2" r="3.3" fill="#000"/>
<circle cx="496.9" cy="258.3" r="3.3" fill="#000"/>
<circle cx="484.8" cy="249.1" r="3.3" fill="#000"/>
<circle cx="481.8" cy="250.9" r="3.3" fill="#000"/>
<circle cx="472.3" cy="271.8" r="3.3" fill="#000"/>
<circle cx="492.1" cy="277.7" r="3.3" fill="#000"/>
<circle cx="473.2" cy="250.8" r="3.3" fill="#000"/>
<circle cx="492.4" cy="278.3" r="3.3" fill="#000"/>
<circle cx="472.4" cy="275.2" r="3.3" fill="#000"/>
<circle cx="496.4" cy="259.7" r="3.3" fill="#000"/>
<circle cx="475.5" cy="247.4" r="3.3" fill="#000"/>
<circle cx="508.0" cy="278.3" r="3.3" fill="#000"/>
<circle cx="478.1" cy="262.9" r="3.3" fill="#000"/>
<circle cx="496.6" cy="256.9" r="3.3" fill="#000"/>
<circle cx="492.3" cy="256.9" r="3.3" fill="#000"/>
<circle cx="486.9" cy="245.6" r="3.3" fill="#000"/>
<circle cx="499.0" cy="253.3" r="3.3" fill="#000"/>
<circle cx="505.8" cy="258.0" r="3.3" fill="#000"/>
<circle cx="500.6" cy="243.5" r="3.3" fill="#000"/>
<circle cx="486.7" cy="266.6" r="3.3" fill="#000"/>
<circle cx="491.3" cy="260.1" r="3.3" fill="#000"/>
<circle cx="471.2" cy="269.8" r="3.3" fill="#000"/>
<circle cx="476.0" cy="246.2" r="3.3" fill="#000"/>
<circle cx="496.5" cy="274.4" r="3.3" fill="#000"/>
<circle cx="487.2" cy="258.5" r="3.3" fill="#000"/>
<circle cx="507.2" cy="256.7" r="3.3" fill="#000"/>
<circle cx="495.0" cy="263.8" r="3.3" fill="#000"/>
<circle cx="505.4" cy="254.5" r="3.3" fill="#000"/>
<circle cx="494.6" cy="267.2" r="3.3" fill="#000"/>
<circle cx="492.3" cy="276.5" r="3.3" fill="#BEBEBE"/>
<circle cx="473.1" cy="267.5" r="3.3" fill="#000"/>
<circle cx="488.5" cy="257.0" r="3.3" fill="#000"/>
<circle cx="478.8" cy="271.7" r="3.3" fill="#000"/>
<circle cx="490.7" cy="255.4" r="3.3" fill="#000"/>
<circle cx="485.0" cy="268.0" r="3.3" fill="#000"/>
<circle cx="469.7" cy="244.9" r="3.3" fill="#000"/>
<circle cx="507.9" cy="257.4" r="3.3" fill="#000"/>
<circle cx="505.1" cy="262.6" r="3.3" fill="#000"/>
<circle cx="490.5" cy="274.2" r="3.3" fill="#000"/>
<circle cx="475.6" cy="252.1" r="3.3" fill="#000"/>
<circle cx="482.4" cy="278.1" r="3.3" fill="#000"/>
<circle cx="473.4" cy="248.8" r="3.3" fill="#000"/>
<circle cx="509.2" cy="262.1" r="3.3" fill="#000"/>
<circle cx="482.3" cy="277.6" r="3.3" fill="#000"/>
<circle cx="504.9" cy="241.0" r="3.3" fill="#000"/>
<circle cx="511.2" cy="241.9" r="3.3" fill="#000"/>
<circle cx="507.3" cy="246.0" r="3.3" fill="#000"/>
<circle cx="509.1" cy="244.9" r="3.3" fill="#000"/>
<circle cx="506.8" cy="251.2" r="3.3" fill="#000"/>
<circle cx="509.2" cy="249.9" r="3.3" fill="#000"/>
<circle cx="505.5" cy="254.4" r="3.3" fill="#000"/>
<circle cx="508.7" cy="254.6" r="3.3" fill="#000"/>
<circle cx="507.4" cy="257.9" r="3.3" fill="#000"/>
<circle cx="508.5" cy="256.6" r="3.3" fill="#000"/>
<circle cx="504.9" cy="261.0" r="3.3" fill="#000"/>
<circle cx="509.2" cy="260.7" r="3.3" fill="#000"/>
<circle cx="506.5" cy="265.9" r="3.3" fill="#000"/>
<circle cx="509.6" cy="266.2" r="3.3" fill="#000"/>
<circle cx="507.1" cy="270.9" r="3.3" fill="#000"/>
<circle cx="509.7" cy="270.9" r="3.3" fill="#000"/>
<circle cx="506.6" cy="275.4" r="3.3" fill="#000"/>
<circle cx="509.6" cy="274.8" r="3.3" fill="#000"/>
<circle cx="506.5" cy="279.2" r="3.3" fill="#000"/>
<circle cx="510.0" cy="276.9" r="3.3" fill="#000"/>
<circle cx="473.6" cy="128.2" r="3.3" fill="#000"/>
<circle cx="471.5" cy="178.4" r="3.3" fill="#000"/>
<circle cx="473.6" cy="194.0" r="3.3" fill="#000"/>
<circle cx="482.2" cy="205.4" r="3.3" fill="#000"/>
<circle cx="488.2" cy="201.5" r="3.3" fill="#000"/>
<circle cx="523.0" cy="205.8" r="3.3" fill="#000"/>
<circle cx="533.7" cy="201.5" r="3.3" fill="#000"/>
<circle cx="567.2" cy="163.9" r="3.3" fill="#000"/>
<circle cx="575.3" cy="217.2" r="3.3" fill="#000"/>
<circle cx="606.9" cy="224.7" r="3.3" fill="#000"/>
<circle cx="647.0" cy="225.5" r="3.3" fill="#000"/>
<circle cx="598.3" cy="236.3" r="3.3" fill="#000"/>
<circle cx="469.0" cy="220.2" r="3.3" fill="#000"/>
<circle cx="476.2" cy="217.4" r="3.3" fill="#000"/>
<circle cx="474.8" cy="221.7" r="3.3" fill="#000"/>
<circle cx="484.3" cy="219.8" r="3.3" fill="#000"/>
<circle cx="485.2" cy="224.0" r="3.3" fill="#000"/>
<circle cx="505.7" cy="217.9" r="3.3" fill="#000"/>
<circle cx="459.5" cy="230.2" r="3.3" fill="#000"/>
<circle cx="456.2" cy="238.3" r="3.3" fill="#000"/>
<circle cx="471.0" cy="226.9" r="3.3" fill="#000"/>
<circle cx="470.0" cy="230.7" r="3.3" fill="#000"/>
<circle cx="469.0" cy="235.5" r="3.3" fill="#000"/>
<circle cx="470.0" cy="240.2" r="3.3" fill="#000"/>
<circle cx="480.5" cy="226.9" r="3.3" fill="#000"/>
<circle cx="480.5" cy="231.7" r="3.3" fill="#000"/>
<circle cx="478.6" cy="236.4" r="3.3" fill="#000"/>
<circle cx="488.1" cy="233.6" r="3.3" fill="#000"/>
<circle cx="485.2" cy="236.4" r="3.3" fill="#000"/>
<circle cx="497.6" cy="230.7" r="3.3" fill="#000"/>
<circle cx="494.8" cy="236.4" r="3.3" fill="#000"/>
<circle cx="492.9" cy="241.2" r="3.3" fill="#000"/>
<circle cx="501.4" cy="235.5" r="3.3" fill="#000"/>
<circle cx="507.1" cy="233.6" r="3.3" fill="#000"/>
<circle cx="505.2" cy="239.3" r="3.3" fill="#000"/>
<circle cx="468.1" cy="278.8" r="3.3" fill="#000"/>
<circle cx="471.9" cy="281.7" r="3.3" fill="#000"/>
<circle cx="482.4" cy="280.7" r="3.3" fill="#000"/>
<circle cx="484.8" cy="286.9" r="3.3" fill="#000"/>
<circle cx="498.6" cy="283.6" r="3.3" fill="#000"/>
<circle cx="508.1" cy="283.6" r="3.3" fill="#000"/>
<circle cx="457.1" cy="292.6" r="3.3" fill="#000"/>
<circle cx="471.9" cy="290.2" r="3.3" fill="#000"/>
<circle cx="469.0" cy="294.0" r="3.3" fill="#000"/>
<circle cx="474.8" cy="291.7" r="3.3" fill="#000"/>
<circle cx="471.9" cy="300.2" r="3.3" fill="#000"/>
<circle cx="469.0" cy="296.0" r="3.3" fill="#000"/>
<circle cx="487.6" cy="299.3" r="3.3" fill="#000"/>
<circle cx="495.7" cy="288.8" r="3.3" fill="#000"/>
<circle cx="493.8" cy="294.0" r="3.3" fill="#000"/>
<circle cx="503.3" cy="293.6" r="3.3" fill="#000"/>
<circle cx="514.0" cy="217.9" r="3.3" fill="#000"/>
<circle cx="519.8" cy="214.5" r="3.3" fill="#000"/>
<circle cx="520.7" cy="220.7" r="3.3" fill="#000"/>
<circle cx="533.1" cy="215.0" r="3.3" fill="#000"/>
<circle cx="529.3" cy="220.2" r="3.3" fill="#000"/>
<circle cx="514.5" cy="226.9" r="3.3" fill="#000"/>
<circle cx="518.3" cy="226.9" r="3.3" fill="#000"/>
<circle cx="519.3" cy="231.7" r="3.3" fill="#000"/>
<circle cx="515.5" cy="230.7" r="3.3" fill="#000"/>
<circle cx="537.4" cy="225.5" r="3.3" fill="#000"/>
<circle cx="540.2" cy="230.7" r="3.3" fill="#000"/>
<circle cx="531.7" cy="234.0" r="3.3" fill="#000"/>
<circle cx="508.8" cy="233.6" r="3.3" fill="#000"/>
<circle cx="506.9" cy="238.3" r="3.3" fill="#000"/>
<circle cx="517.4" cy="237.4" r="3.3" fill="#000"/>
<circle cx="520.2" cy="241.2" r="3.3" fill="#000"/>
<circle cx="526.9" cy="242.1" r="3.3" fill="#000"/>
<circle cx="532.6" cy="241.2" r="3.3" fill="#000"/>
<circle cx="538.8" cy="237.4" r="3.3" fill="#000"/>
<circle cx="564.0" cy="243.1" r="3.3" fill="#000"/>
<circle cx="519.3" cy="245.7" r="3.3" fill="#000"/>
<circle cx="520.2" cy="250.5" r="3.3" fill="#000"/>
<circle cx="518.3" cy="242.9" r="3.3" fill="#000"/>
<circle cx="528.8" cy="242.9" r="3.3" fill="#000"/>
<circle cx="531.7" cy="241.0" r="3.3" fill="#000"/>
<circle cx="541.2" cy="245.7" r="3.3" fill="#000"/>
<circle cx="543.1" cy="250.5" r="3.3" fill="#000"/>
<circle cx="537.4" cy="251.4" r="3.3" fill="#000"/>
<circle cx="533.6" cy="253.3" r="3.3" fill="#000"/>
<circle cx="527.9" cy="256.2" r="3.3" fill="#000"/>
<circle cx="524.0" cy="259.0" r="3.3" fill="#000"/>
<circle cx="519.3" cy="261.9" r="3.3" fill="#000"/>
<circle cx="514.5" cy="257.1" r="3.3" fill="#000"/>
<circle cx="513.6" cy="262.9" r="3.3" fill="#000"/>
<circle cx="516.4" cy="267.6" r="3.3" fill="#000"/>
<circle cx="510.7" cy="266.7" r="3.3" fill="#000"/>
<circle cx="507.9" cy="262.9" r="3.3" fill="#000"/>
<circle cx="544.0" cy="260.0" r="3.3" fill="#000"/>
<circle cx="545.0" cy="263.8" r="3.3" fill="#000"/>
<circle cx="543.1" cy="267.6" r="3.3" fill="#000"/>
<circle cx="551.7" cy="260.0" r="3.3" fill="#000"/>
<circle cx="526.0" cy="268.6" r="3.3" fill="#000"/>
<circle cx="529.8" cy="269.5" r="3.3" fill="#000"/>
<circle cx="533.6" cy="271.4" r="3.3" fill="#000"/>
<circle cx="537.4" cy="269.5" r="3.3" fill="#000"/>
<circle cx="541.2" cy="273.3" r="3.3" fill="#000"/>
<circle cx="543.1" cy="276.2" r="3.3" fill="#000"/>
<circle cx="524.0" cy="276.2" r="3.3" fill="#000"/>
<circle cx="516.4" cy="276.2" r="3.3" fill="#000"/>
<circle cx="510.7" cy="273.3" r="3.3" fill="#000"/>
<circle cx="508.8" cy="278.1" r="3.3" fill="#000"/>
<circle cx="548.8" cy="269.5" r="3.3" fill="#000"/>
<circle cx="551.7" cy="272.4" r="3.3" fill="#000"/>
<circle cx="554.5" cy="276.2" r="3.3" fill="#000"/>
<circle cx="561.2" cy="265.7" r="3.3" fill="#000"/>
<circle cx="564.0" cy="243.8" r="3.3" fill="#000"/>
<circle cx="562.1" cy="272.4" r="3.3" fill="#000"/>
<circle cx="508.8" cy="282.6" r="3.3" fill="#000"/>
<circle cx="514.5" cy="280.7" r="3.3" fill="#000"/>
<circle cx="519.3" cy="283.6" r="3.3" fill="#000"/>
<circle cx="517.4" cy="276.9" r="3.3" fill="#000"/>
<circle cx="528.8" cy="279.8" r="3.3" fill="#000"/>
<circle cx="535.5" cy="278.8" r="3.3" fill="#000"/>
<circle cx="541.2" cy="283.6" r="3.3" fill="#000"/>
<circle cx="544.0" cy="282.6" r="3.3" fill="#000"/>
<circle cx="549.8" cy="280.7" r="3.3" fill="#000"/>
<circle cx="556.4" cy="282.6" r="3.3" fill="#000"/>
<circle cx="563.1" cy="279.8" r="3.3" fill="#000"/>
<circle cx="516.4" cy="289.3" r="3.3" fill="#000"/>
<circle cx="518.8" cy="293.6" r="3.3" fill="#000"/>
<circle cx="532.1" cy="288.3" r="3.3" fill="#000"/>
<circle cx="528.8" cy="295.0" r="3.3" fill="#000"/>
<circle cx="541.2" cy="293.1" r="3.3" fill="#000"/>
<circle cx="505.5" cy="293.1" r="3.3" fill="#000"/>
<circle cx="553.6" cy="287.4" r="3.3" fill="#000"/>
<circle cx="554.5" cy="293.1" r="3.3" fill="#000"/>
<circle cx="557.4" cy="297.9" r="3.3" fill="#000"/>
<circle cx="562.1" cy="295.0" r="3.3" fill="#000"/>
<circle cx="564.0" cy="288.3" r="3.3" fill="#000"/>
<circle cx="540.2" cy="309.3" r="3.3" fill="#000"/>
<circle cx="541.2" cy="311.7" r="3.3" fill="#000"/>
<circle cx="565.7" cy="244.0" r="3.3" fill="#000"/>
<circle cx="568.6" cy="244.0" r="3.3" fill="#000"/>
<circle cx="597.9" cy="244.3" r="3.3" fill="#000"/>
<circle cx="580.0" cy="247.4" r="3.3" fill="#000"/>
<circle cx="588.6" cy="246.9" r="3.3" fill="#000"/>
<circle cx="592.1" cy="254.6" r="3.3" fill="#000"/>
<circle cx="599.3" cy="254.3" r="3.3" fill="#000"/>
<circle cx="601.4" cy="259.3" r="3.3" fill="#000"/>
<circle cx="612.9" cy="255.0" r="3.3" fill="#000"/>
<circle cx="619.3" cy="261.4" r="3.3" fill="#000"/>
<circle cx="607.1" cy="264.0" r="3.3" fill="#000"/>
<circle cx="589.3" cy="264.3" r="3.3" fill="#000"/>
<circle cx="583.6" cy="266.9" r="3.3" fill="#000"/>
<circle cx="561.4" cy="265.0" r="3.3" fill="#000"/>
<circle cx="565.7" cy="271.4" r="3.3" fill="#000"/>
<circle cx="575.7" cy="270.7" r="3.3" fill="#000"/>
<circle cx="580.0" cy="273.6" r="3.3" fill="#000"/>
<circle cx="579.3" cy="279.3" r="3.3" fill="#000"/>
<circle cx="591.4" cy="272.9" r="3.3" fill="#000"/>
<circle cx="594.3" cy="270.0" r="3.3" fill="#000"/>
<circle cx="613.6" cy="270.0" r="3.3" fill="#000"/>
<circle cx="608.6" cy="276.0" r="3.3" fill="#000"/>
<circle cx="619.3" cy="275.0" r="3.3" fill="#000"/>
<circle cx="623.6" cy="275.7" r="3.3" fill="#000"/>
<circle cx="625.0" cy="271.4" r="3.3" fill="#000"/>
<circle cx="634.3" cy="265.7" r="3.3" fill="#000"/>
<circle cx="634.3" cy="271.4" r="3.3" fill="#000"/>
<circle cx="638.6" cy="271.4" r="3.3" fill="#000"/>
<circle cx="642.9" cy="275.7" r="3.3" fill="#000"/>
<circle cx="650.0" cy="273.6" r="3.3" fill="#000"/>
<circle cx="657.9" cy="265.7" r="3.3" fill="#000"/>
<circle cx="657.1" cy="271.4" r="3.3" fill="#000"/>
<circle cx="564.3" cy="279.3" r="3.3" fill="#000"/>
<circle cx="565.7" cy="287.1" r="3.3" fill="#000"/>
<circle cx="587.1" cy="280.0" r="3.3" fill="#000"/>
<circle cx="590.7" cy="282.9" r="3.3" fill="#000"/>
<circle cx="597.1" cy="280.7" r="3.3" fill="#000"/>
<circle cx="601.4" cy="283.6" r="3.3" fill="#000"/>
<circle cx="590.0" cy="287.1" r="3.3" fill="#000"/>
<circle cx="625.7" cy="286.4" r="3.3" fill="#000"/>
<circle cx="637.1" cy="282.9" r="3.3" fill="#000"/>
<circle cx="645.7" cy="281.4" r="3.3" fill="#000"/>
<circle cx="648.6" cy="286.4" r="3.3" fill="#000"/>
<circle cx="654.3" cy="279.3" r="3.3" fill="#000"/>
<circle cx="563.0" cy="294.9" r="3.3" fill="#000"/>
<circle cx="579.6" cy="300.2" r="3.3" fill="#000"/>
<circle cx="573.7" cy="306.8" r="3.3" fill="#000"/>
<circle cx="589.8" cy="287.1" r="3.3" fill="#000"/>
<circle cx="595.7" cy="282.4" r="3.3" fill="#000"/>
<circle cx="602.3" cy="283.6" r="3.3" fill="#000"/>
<circle cx="598.1" cy="288.9" r="3.3" fill="#000"/>
<circle cx="600.5" cy="302.6" r="3.3" fill="#000"/>
<circle cx="610.6" cy="305.6" r="3.3" fill="#000"/>
<circle cx="612.4" cy="293.7" r="3.3" fill="#000"/>
<circle cx="616.0" cy="295.5" r="3.3" fill="#000"/>
<circle cx="618.3" cy="290.7" r="3.3" fill="#000"/>
<circle cx="625.5" cy="286.0" r="3.3" fill="#000"/>
<circle cx="636.2" cy="283.6" r="3.3" fill="#000"/>
<circle cx="635.0" cy="288.9" r="3.3" fill="#000"/>
<circle cx="636.2" cy="299.0" r="3.3" fill="#000"/>
<circle cx="630.8" cy="300.8" r="3.3" fill="#000"/>
<circle cx="629.6" cy="306.2" r="3.3" fill="#000"/>
<circle cx="646.9" cy="282.4" r="3.3" fill="#000"/>
<circle cx="645.7" cy="288.3" r="3.3" fill="#000"/>
<circle cx="650.5" cy="287.1" r="3.3" fill="#000"/>
<circle cx="647.5" cy="293.1" r="3.3" fill="#000"/>
<circle cx="648.1" cy="302.0" r="3.3" fill="#000"/>
<circle cx="646.9" cy="308.6" r="3.3" fill="#000"/>
<circle cx="646.9" cy="315.7" r="3.3" fill="#000"/>
<circle cx="656.4" cy="284.8" r="3.3" fill="#000"/>
<circle cx="720.0" cy="247.4" r="3.3" fill="#000"/>
<circle cx="719.3" cy="261.4" r="3.3" fill="#000"/>
<circle cx="682.1" cy="256.4" r="3.3" fill="#000"/>
<circle cx="659.3" cy="268.6" r="3.3" fill="#000"/>
<circle cx="657.9" cy="272.1" r="3.3" fill="#000"/>
<circle cx="670.0" cy="270.0" r="3.3" fill="#000"/>
<circle cx="691.4" cy="265.0" r="3.3" fill="#000"/>
<circle cx="690.0" cy="268.6" r="3.3" fill="#000"/>
<circle cx="687.1" cy="272.9" r="3.3" fill="#000"/>
<circle cx="684.3" cy="276.4" r="3.3" fill="#000"/>
<circle cx="697.1" cy="273.6" r="3.3" fill="#000"/>
<circle cx="692.9" cy="277.1" r="3.3" fill="#000"/>
<circle cx="688.6" cy="280.0" r="3.3" fill="#000"/>
<circle cx="677.1" cy="284.3" r="3.3" fill="#000"/>
<circle cx="681.4" cy="285.7" r="3.3" fill="#000"/>
<circle cx="655.7" cy="278.6" r="3.3" fill="#000"/>
<circle cx="660.0" cy="278.6" r="3.3" fill="#000"/>
<circle cx="657.1" cy="284.3" r="3.3" fill="#000"/>
<circle cx="712.9" cy="280.7" r="3.3" fill="#000"/>
<circle cx="694.3" cy="287.1" r="3.3" fill="#000"/>
<circle cx="702.9" cy="288.6" r="3.3" fill="#000"/>
<circle cx="723.6" cy="284.3" r="3.3" fill="#000"/>
<circle cx="722.9" cy="287.1" r="3.3" fill="#000"/>
<circle cx="651.2" cy="287.1" r="3.3" fill="#000"/>
<circle cx="664.9" cy="292.5" r="3.3" fill="#000"/>
<circle cx="672.0" cy="291.9" r="3.3" fill="#000"/>
<circle cx="681.0" cy="294.9" r="3.3" fill="#000"/>
<circle cx="681.0" cy="286.0" r="3.3" fill="#000"/>
<circle cx="685.7" cy="282.4" r="3.3" fill="#000"/>
<circle cx="689.3" cy="281.2" r="3.3" fill="#000"/>
<circle cx="694.6" cy="287.1" r="3.3" fill="#000"/>
<circle cx="690.5" cy="301.4" r="3.3" fill="#000"/>
<circle cx="692.9" cy="308.0" r="3.3" fill="#000"/>
<circle cx="697.6" cy="309.8" r="3.3" fill="#000"/>
<circle cx="700.0" cy="311.0" r="3.3" fill="#000"/>
<circle cx="692.3" cy="314.5" r="3.3" fill="#000"/>
<circle cx="708.3" cy="307.4" r="3.3" fill="#000"/>
<circle cx="702.4" cy="288.3" r="3.3" fill="#000"/>
<circle cx="706.0" cy="290.1" r="3.3" fill="#000"/>
<circle cx="700.0" cy="293.1" r="3.3" fill="#000"/>
<circle cx="698.8" cy="294.9" r="3.3" fill="#000"/>
<circle cx="713.1" cy="281.2" r="3.3" fill="#000"/>
<circle cx="717.3" cy="291.3" r="3.3" fill="#000"/>
<circle cx="723.8" cy="284.8" r="3.3" fill="#000"/>
<circle cx="722.6" cy="287.1" r="3.3" fill="#000"/>
<circle cx="725.0" cy="294.9" r="3.3" fill="#000"/>
<circle cx="725.0" cy="301.4" r="3.3" fill="#000"/>
<circle cx="725.6" cy="315.1" r="3.3" fill="#000"/>
<circle cx="650.6" cy="301.4" r="3.3" fill="#000"/>
<circle cx="741.1" cy="249.3" r="3.3" fill="#000"/>
<circle cx="782.9" cy="261.4" r="3.3" fill="#000"/>
<circle cx="787.1" cy="261.4" r="3.3" fill="#000"/>
<circle cx="765.4" cy="271.7" r="3.3" fill="#000"/>
<circle cx="724.3" cy="284.3" r="3.3" fill="#000"/>
<circle cx="736.4" cy="285.7" r="3.3" fill="#000"/>
<circle cx="740.7" cy="284.3" r="3.3" fill="#000"/>
<circle cx="745.7" cy="287.9" r="3.3" fill="#000"/>
<circle cx="789.3" cy="284.3" r="3.3" fill="#000"/>
<circle cx="785.7" cy="288.6" r="3.3" fill="#000"/>
<circle cx="723.6" cy="284.8" r="3.3" fill="#000"/>
<circle cx="736.7" cy="286.0" r="3.3" fill="#000"/>
<circle cx="740.8" cy="284.2" r="3.3" fill="#000"/>
<circle cx="745.6" cy="289.5" r="3.3" fill="#000"/>
<circle cx="724.8" cy="294.3" r="3.3" fill="#000"/>
<circle cx="729.5" cy="294.3" r="3.3" fill="#000"/>
<circle cx="731.3" cy="295.5" r="3.3" fill="#000"/>
<circle cx="743.2" cy="296.7" r="3.3" fill="#000"/>
<circle cx="724.8" cy="301.4" r="3.3" fill="#000"/>
<circle cx="737.3" cy="302.6" r="3.3" fill="#000"/>
<circle cx="762.3" cy="296.7" r="3.3" fill="#000"/>
<circle cx="765.8" cy="300.2" r="3.3" fill="#000"/>
<circle cx="789.6" cy="284.8" r="3.3" fill="#000"/>
<circle cx="785.5" cy="290.7" r="3.3" fill="#000"/>
<circle cx="788.5" cy="294.3" r="3.3" fill="#000"/>
<circle cx="783.1" cy="295.5" r="3.3" fill="#000"/>
<circle cx="787.9" cy="301.4" r="3.3" fill="#000"/>
<circle cx="783.1" cy="304.4" r="3.3" fill="#000"/>
<circle cx="783.7" cy="306.8" r="3.3" fill="#000"/>
<circle cx="473.8" cy="241.2" r="3.3" fill="#BEBEBE"/>
<circle cx="485.2" cy="240.2" r="3.3" fill="#BEBEBE"/>
<circle cx="459.5" cy="242.1" r="3.3" fill="#BEBEBE"/>
<circle cx="467.1" cy="249.5" r="3.3" fill="#BEBEBE"/>
<circle cx="491.9" cy="245.2" r="3.3" fill="#BEBEBE"/>
<circle cx="473.8" cy="273.3" r="3.3" fill="#BEBEBE"/>
<circle cx="499.5" cy="243.8" r="3.3" fill="#BEBEBE"/>
<circle cx="492.9" cy="281.7" r="3.3" fill="#BEBEBE"/>
<circle cx="504.3" cy="280.7" r="3.3" fill="#BEBEBE"/>
<circle cx="540.2" cy="241.2" r="3.3" fill="#BEBEBE"/>
<circle cx="512.6" cy="248.6" r="3.3" fill="#BEBEBE"/>
<circle cx="518.3" cy="256.2" r="3.3" fill="#BEBEBE"/>
<circle cx="532.6" cy="261.9" r="3.3" fill="#BEBEBE"/>
<circle cx="538.3" cy="256.2" r="3.3" fill="#BEBEBE"/>
<circle cx="558.3" cy="261.9" r="3.3" fill="#BEBEBE"/>
<circle cx="560.2" cy="252.4" r="3.3" fill="#BEBEBE"/>
<circle cx="563.1" cy="256.2" r="3.3" fill="#BEBEBE"/>
<circle cx="549.8" cy="278.1" r="3.3" fill="#BEBEBE"/>
<circle cx="524.0" cy="281.7" r="3.3" fill="#BEBEBE"/>
<circle cx="564.3" cy="252.9" r="3.3" fill="#BEBEBE"/>
<circle cx="567.1" cy="252.9" r="3.3" fill="#BEBEBE"/>
<circle cx="564.3" cy="258.6" r="3.3" fill="#BEBEBE"/>
<circle cx="568.6" cy="264.3" r="3.3" fill="#BEBEBE"/>
<circle cx="577.1" cy="254.3" r="3.3" fill="#BEBEBE"/>
<circle cx="583.6" cy="255.0" r="3.3" fill="#BEBEBE"/>
<circle cx="582.9" cy="260.0" r="3.3" fill="#BEBEBE"/>
<circle cx="575.7" cy="263.6" r="3.3" fill="#BEBEBE"/>
<circle cx="597.9" cy="267.9" r="3.3" fill="#BEBEBE"/>
<circle cx="608.6" cy="258.6" r="3.3" fill="#BEBEBE"/>
<circle cx="625.7" cy="262.9" r="3.3" fill="#BEBEBE"/>
<circle cx="638.6" cy="264.3" r="3.3" fill="#BEBEBE"/>
<circle cx="610.0" cy="281.4" r="3.3" fill="#BEBEBE"/>
<circle cx="620.0" cy="279.3" r="3.3" fill="#BEBEBE"/>
<circle cx="608.8" cy="287.1" r="3.3" fill="#BEBEBE"/>
<circle cx="610.0" cy="281.2" r="3.3" fill="#BEBEBE"/>
<circle cx="620.7" cy="291.9" r="3.3" fill="#BEBEBE"/>
<circle cx="643.3" cy="284.8" r="3.3" fill="#BEBEBE"/>
<circle cx="665.7" cy="277.1" r="3.3" fill="#BEBEBE"/>
<circle cx="671.4" cy="275.7" r="3.3" fill="#BEBEBE"/>
<circle cx="677.1" cy="272.9" r="3.3" fill="#BEBEBE"/>
<circle cx="680.7" cy="271.4" r="3.3" fill="#BEBEBE"/>
<circle cx="664.3" cy="280.7" r="3.3" fill="#BEBEBE"/>
<circle cx="707.1" cy="283.6" r="3.3" fill="#BEBEBE"/>
<circle cx="723.6" cy="278.6" r="3.3" fill="#BEBEBE"/>
<circle cx="664.9" cy="296.1" r="3.3" fill="#BEBEBE"/>
<circle cx="695.2" cy="299.0" r="3.3" fill="#BEBEBE"/>
<circle cx="701.2" cy="299.0" r="3.3" fill="#BEBEBE"/>
<circle cx="717.9" cy="295.5" r="3.3" fill="#BEBEBE"/>
<circle cx="760.0" cy="277.9" r="3.3" fill="#BEBEBE"/>
<circle cx="740.0" cy="273.6" r="3.3" fill="#BEBEBE"/>
<circle cx="735.0" cy="281.4" r="3.3" fill="#BEBEBE"/>
<circle cx="731.4" cy="285.7" r="3.3" fill="#BEBEBE"/>
<circle cx="739.6" cy="299.0" r="3.3" fill="#BEBEBE"/>
<circle cx="734.3" cy="302.6" r="3.3" fill="#BEBEBE"/>
<circle cx="730.7" cy="286.0" r="3.3" fill="#BEBEBE"/>
<circle cx="746.2" cy="306.8" r="3.3" fill="#BEBEBE"/>
<circle cx="753.3" cy="293.1" r="3.3" fill="#BEBEBE"/>
<circle cx="776.0" cy="303.2" r="3.3" fill="#BEBEBE"/>
<circle cx="468.3" cy="248.8" r="3.3" fill="#BEBEBE"/>
<circle cx="485.5" cy="240.2" r="3.3" fill="#BEBEBE"/>
<circle cx="493.1" cy="245.0" r="3.3" fill="#BEBEBE"/>
<circle cx="500.7" cy="243.1" r="3.3" fill="#BEBEBE"/>
<circle cx="512.1" cy="247.9" r="3.3" fill="#BEBEBE"/>
<circle cx="518.8" cy="256.4" r="3.3" fill="#BEBEBE"/>
<circle cx="475.0" cy="273.6" r="3.3" fill="#BEBEBE"/>
<circle cx="493.1" cy="281.2" r="3.3" fill="#BEBEBE"/>
<circle cx="512.1" cy="270.7" r="3.3" fill="#BEBEBE"/>
<circle cx="531.2" cy="261.2" r="3.3" fill="#BEBEBE"/>
<circle cx="533.1" cy="272.6" r="3.3" fill="#BEBEBE"/>
<line x1="622.8" y1="352.7" x2="622.8" y2="50.0" stroke="#000" stroke-width="2" stroke-dasharray="9.55 9.55"/>
<text x="541.9" y="79.6" text-anchor="middle" font-size="20.8" fill="#000" stroke="#000" stroke-width="0.3">&lt;14 days</text>
<text x="545.0" y="110.2" text-anchor="middle" font-size="21" fill="#000" stroke="#000" stroke-width="0.3">PNA</text>
<text x="704.3" y="79.6" text-anchor="middle" font-size="20.8" fill="#000" stroke="#000" stroke-width="0.3">&gt;=14 days</text>
<text x="707.4" y="110.2" text-anchor="middle" font-size="21" fill="#000" stroke="#000" stroke-width="0.3">PNA</text>
<rect x="440.8" y="50.0" width="365.3" height="302.7" fill="none" stroke="#333" stroke-width="1.6"/>
<rect x="440.8" y="14.0" width="365.3" height="36.0" fill="#D9D9D9" stroke="#333" stroke-width="1.6"/>
<text x="623.5" y="37.8" text-anchor="middle" font-size="15.5" fill="#1A1A1A">30-35w PMA</text>
<line x1="460.4" y1="352.7" x2="460.4" y2="359.7" stroke="#333" stroke-width="2"/>
<text x="460.4" y="376.6" text-anchor="middle" font-size="15.5" fill="#4D4D4D">0</text>
<line x1="576.4" y1="352.7" x2="576.4" y2="359.7" stroke="#333" stroke-width="2"/>
<text x="576.4" y="376.6" text-anchor="middle" font-size="15.5" fill="#4D4D4D">10</text>
<line x1="692.4" y1="352.7" x2="692.4" y2="359.7" stroke="#333" stroke-width="2"/>
<text x="692.4" y="376.6" text-anchor="middle" font-size="15.5" fill="#4D4D4D">20</text>
<line x1="898.3" y1="50.0" x2="898.3" y2="352.7" stroke="#F0F0F0" stroke-width="1.2"/>
<line x1="1014.3" y1="50.0" x2="1014.3" y2="352.7" stroke="#F0F0F0" stroke-width="1.2"/>
<line x1="1130.3" y1="50.0" x2="1130.3" y2="352.7" stroke="#F0F0F0" stroke-width="1.2"/>
<line x1="820.8" y1="293.5" x2="1186.1" y2="293.5" stroke="#F0F0F0" stroke-width="1.2"/>
<line x1="820.8" y1="201.6" x2="1186.1" y2="201.6" stroke="#F0F0F0" stroke-width="1.2"/>
<line x1="820.8" y1="109.6" x2="1186.1" y2="109.6" stroke="#F0F0F0" stroke-width="1.2"/>
<line x1="840.3" y1="50.0" x2="840.3" y2="352.7" stroke="#EBEBEB" stroke-width="2"/>
<line x1="956.3" y1="50.0" x2="956.3" y2="352.7" stroke="#EBEBEB" stroke-width="2"/>
<line x1="1072.3" y1="50.0" x2="1072.3" y2="352.7" stroke="#EBEBEB" stroke-width="2"/>
<line x1="820.8" y1="339.5" x2="1186.1" y2="339.5" stroke="#EBEBEB" stroke-width="2"/>
<line x1="820.8" y1="247.5" x2="1186.1" y2="247.5" stroke="#EBEBEB" stroke-width="2"/>
<line x1="820.8" y1="155.6" x2="1186.1" y2="155.6" stroke="#EBEBEB" stroke-width="2"/>
<line x1="820.8" y1="63.6" x2="1186.1" y2="63.6" stroke="#EBEBEB" stroke-width="2"/>
<line x1="820.8" y1="293.5" x2="1186.1" y2="293.5" stroke="#BEBEBE" stroke-width="2"/>
<line x1="820.8" y1="270.5" x2="1186.1" y2="270.5" stroke="#BEBEBE" stroke-width="2"/>
<line x1="820.8" y1="224.6" x2="1186.1" y2="224.6" stroke="#BEBEBE" stroke-width="2"/>
<g id="pts2"></g>
<circle cx="878.3" cy="208.2" r="3.3" fill="#000"/>
<circle cx="908.4" cy="174.7" r="3.3" fill="#000"/>
<circle cx="905.8" cy="196.7" r="3.3" fill="#000"/>
<circle cx="899.6" cy="153.5" r="3.3" fill="#000"/>
<circle cx="873.7" cy="210.2" r="3.3" fill="#BEBEBE"/>
<circle cx="861.1" cy="204.3" r="3.3" fill="#000"/>
<circle cx="870.9" cy="176.4" r="3.3" fill="#000"/>
<circle cx="866.7" cy="191.0" r="3.3" fill="#000"/>
<circle cx="853.8" cy="176.3" r="3.3" fill="#000"/>
<circle cx="871.2" cy="201.7" r="3.3" fill="#000"/>
<circle cx="872.9" cy="155.9" r="3.3" fill="#000"/>
<circle cx="882.6" cy="172.2" r="3.3" fill="#000"/>
<circle cx="894.3" cy="204.0" r="3.3" fill="#000"/>
<circle cx="871.8" cy="165.8" r="3.3" fill="#000"/>
<circle cx="905.2" cy="205.8" r="3.3" fill="#000"/>
<circle cx="875.2" cy="208.2" r="3.3" fill="#000"/>
<circle cx="890.3" cy="180.9" r="3.3" fill="#000"/>
<circle cx="897.1" cy="221.3" r="3.3" fill="#BEBEBE"/>
<circle cx="906.6" cy="212.9" r="3.3" fill="#000"/>
<circle cx="877.3" cy="182.1" r="3.3" fill="#000"/>
<circle cx="878.7" cy="171.3" r="3.3" fill="#000"/>
<circle cx="905.7" cy="194.4" r="3.3" fill="#000"/>
<circle cx="881.0" cy="207.8" r="3.3" fill="#000"/>
<circle cx="868.4" cy="184.0" r="3.3" fill="#000"/>
<circle cx="866.5" cy="221.0" r="3.3" fill="#000"/>
<circle cx="891.5" cy="186.7" r="3.3" fill="#000"/>
<circle cx="857.3" cy="161.7" r="3.3" fill="#000"/>
<circle cx="880.9" cy="196.0" r="3.3" fill="#000"/>
<circle cx="903.9" cy="175.1" r="3.3" fill="#000"/>
<circle cx="860.9" cy="216.5" r="3.3" fill="#000"/>
<circle cx="879.2" cy="167.8" r="3.3" fill="#000"/>
<circle cx="873.0" cy="174.4" r="3.3" fill="#BEBEBE"/>
<circle cx="901.0" cy="178.0" r="3.3" fill="#000"/>
<circle cx="871.2" cy="170.3" r="3.3" fill="#000"/>
<circle cx="881.3" cy="161.1" r="3.3" fill="#000"/>
<circle cx="904.5" cy="176.1" r="3.3" fill="#000"/>
<circle cx="869.8" cy="157.2" r="3.3" fill="#000"/>
<circle cx="849.4" cy="219.0" r="3.3" fill="#000"/>
<circle cx="850.0" cy="156.4" r="3.3" fill="#000"/>
<circle cx="881.8" cy="162.2" r="3.3" fill="#000"/>
<circle cx="872.1" cy="180.4" r="3.3" fill="#000"/>
<circle cx="877.5" cy="219.6" r="3.3" fill="#000"/>
<circle cx="861.3" cy="221.8" r="3.3" fill="#000"/>
<circle cx="866.6" cy="182.6" r="3.3" fill="#000"/>
<circle cx="864.6" cy="213.2" r="3.3" fill="#000"/>
<circle cx="856.9" cy="223.7" r="3.3" fill="#000"/>
<circle cx="877.0" cy="165.9" r="3.3" fill="#000"/>
<circle cx="858.2" cy="196.7" r="3.3" fill="#000"/>
<circle cx="893.2" cy="218.3" r="3.3" fill="#000"/>
<circle cx="873.4" cy="178.6" r="3.3" fill="#000"/>
<circle cx="851.1" cy="206.4" r="3.3" fill="#000"/>
<circle cx="873.9" cy="189.1" r="3.3" fill="#000"/>
<circle cx="904.3" cy="216.5" r="3.3" fill="#000"/>
<circle cx="898.9" cy="210.1" r="3.3" fill="#000"/>
<circle cx="909.5" cy="159.0" r="3.3" fill="#000"/>
<circle cx="897.3" cy="212.0" r="3.3" fill="#BEBEBE"/>
<circle cx="895.4" cy="217.7" r="3.3" fill="#000"/>
<circle cx="862.9" cy="177.5" r="3.3" fill="#000"/>
<circle cx="866.3" cy="208.5" r="3.3" fill="#000"/>
<circle cx="865.2" cy="176.2" r="3.3" fill="#BEBEBE"/>
<circle cx="850.9" cy="160.7" r="3.3" fill="#000"/>
<circle cx="874.8" cy="152.6" r="3.3" fill="#000"/>
<circle cx="881.9" cy="191.0" r="3.3" fill="#000"/>
<circle cx="899.0" cy="194.6" r="3.3" fill="#000"/>
<circle cx="862.5" cy="193.8" r="3.3" fill="#000"/>
<circle cx="849.3" cy="182.0" r="3.3" fill="#000"/>
<circle cx="856.7" cy="209.3" r="3.3" fill="#BEBEBE"/>
<circle cx="894.3" cy="167.0" r="3.3" fill="#BEBEBE"/>
<circle cx="903.6" cy="162.3" r="3.3" fill="#000"/>
<circle cx="879.4" cy="207.5" r="3.3" fill="#BEBEBE"/>
<circle cx="896.7" cy="184.0" r="3.3" fill="#000"/>
<circle cx="909.6" cy="217.6" r="3.3" fill="#BEBEBE"/>
<circle cx="861.3" cy="208.7" r="3.3" fill="#000"/>
<circle cx="898.6" cy="202.9" r="3.3" fill="#BEBEBE"/>
<circle cx="901.6" cy="216.8" r="3.3" fill="#000"/>
<circle cx="860.9" cy="184.6" r="3.3" fill="#BEBEBE"/>
<circle cx="887.3" cy="207.8" r="3.3" fill="#000"/>
<circle cx="858.5" cy="186.9" r="3.3" fill="#000"/>
<circle cx="893.9" cy="215.6" r="3.3" fill="#BEBEBE"/>
<circle cx="855.6" cy="191.9" r="3.3" fill="#BEBEBE"/>
<circle cx="882.9" cy="173.7" r="3.3" fill="#000"/>
<circle cx="887.9" cy="170.6" r="3.3" fill="#000"/>
<circle cx="867.6" cy="213.9" r="3.3" fill="#000"/>
<circle cx="873.6" cy="155.1" r="3.3" fill="#000"/>
<circle cx="860.3" cy="166.4" r="3.3" fill="#000"/>
<circle cx="862.8" cy="171.3" r="3.3" fill="#000"/>
<circle cx="906.7" cy="205.2" r="3.3" fill="#BEBEBE"/>
<circle cx="909.8" cy="187.9" r="3.3" fill="#000"/>
<circle cx="858.6" cy="159.0" r="3.3" fill="#000"/>
<circle cx="887.7" cy="198.5" r="3.3" fill="#000"/>
<circle cx="864.5" cy="219.0" r="3.3" fill="#BEBEBE"/>
<circle cx="908.3" cy="211.3" r="3.3" fill="#000"/>
<circle cx="908.1" cy="157.4" r="3.3" fill="#000"/>
<circle cx="872.8" cy="178.3" r="3.3" fill="#000"/>
<circle cx="903.4" cy="176.7" r="3.3" fill="#BEBEBE"/>
<circle cx="872.9" cy="171.0" r="3.3" fill="#000"/>
<circle cx="885.1" cy="169.0" r="3.3" fill="#000"/>
<circle cx="856.4" cy="166.1" r="3.3" fill="#000"/>
<circle cx="860.9" cy="211.8" r="3.3" fill="#000"/>
<circle cx="879.5" cy="204.9" r="3.3" fill="#000"/>
<circle cx="879.7" cy="217.7" r="3.3" fill="#000"/>
<circle cx="851.5" cy="210.8" r="3.3" fill="#000"/>
<circle cx="858.9" cy="217.5" r="3.3" fill="#BEBEBE"/>
<circle cx="864.3" cy="172.3" r="3.3" fill="#000"/>
<circle cx="859.0" cy="217.3" r="3.3" fill="#000"/>
<circle cx="876.0" cy="160.6" r="3.3" fill="#BEBEBE"/>
<circle cx="882.1" cy="220.3" r="3.3" fill="#000"/>
<circle cx="874.2" cy="162.1" r="3.3" fill="#000"/>
<circle cx="854.6" cy="179.9" r="3.3" fill="#BEBEBE"/>
<circle cx="904.4" cy="210.5" r="3.3" fill="#000"/>
<circle cx="862.6" cy="193.4" r="3.3" fill="#000"/>
<circle cx="907.6" cy="188.1" r="3.3" fill="#000"/>
<circle cx="879.2" cy="197.4" r="3.3" fill="#000"/>
<circle cx="880.7" cy="211.0" r="3.3" fill="#000"/>
<circle cx="908.1" cy="165.7" r="3.3" fill="#000"/>
<circle cx="902.8" cy="167.0" r="3.3" fill="#000"/>
<circle cx="868.6" cy="164.5" r="3.3" fill="#000"/>
<circle cx="899.5" cy="195.2" r="3.3" fill="#000"/>
<circle cx="880.8" cy="199.3" r="3.3" fill="#000"/>
<circle cx="883.5" cy="201.4" r="3.3" fill="#000"/>
<circle cx="907.1" cy="169.5" r="3.3" fill="#000"/>
<circle cx="899.5" cy="193.2" r="3.3" fill="#000"/>
<circle cx="885.4" cy="182.2" r="3.3" fill="#000"/>
<circle cx="877.4" cy="151.0" r="3.3" fill="#000"/>
<circle cx="854.4" cy="183.1" r="3.3" fill="#000"/>
<circle cx="858.4" cy="161.6" r="3.3" fill="#000"/>
<circle cx="862.9" cy="212.2" r="3.3" fill="#000"/>
<circle cx="857.3" cy="221.8" r="3.3" fill="#000"/>
<circle cx="903.8" cy="189.0" r="3.3" fill="#000"/>
<circle cx="869.9" cy="158.6" r="3.3" fill="#BEBEBE"/>
<circle cx="855.6" cy="153.2" r="3.3" fill="#000"/>
<circle cx="866.5" cy="203.9" r="3.3" fill="#000"/>
<circle cx="886.0" cy="184.1" r="3.3" fill="#000"/>
<circle cx="905.7" cy="192.9" r="3.3" fill="#000"/>
<circle cx="863.1" cy="154.5" r="3.3" fill="#BEBEBE"/>
<circle cx="909.5" cy="161.4" r="3.3" fill="#000"/>
<circle cx="898.5" cy="179.8" r="3.3" fill="#BEBEBE"/>
<circle cx="905.0" cy="222.5" r="3.3" fill="#000"/>
<circle cx="861.2" cy="160.5" r="3.3" fill="#000"/>
<circle cx="875.9" cy="173.9" r="3.3" fill="#BEBEBE"/>
<circle cx="856.0" cy="161.9" r="3.3" fill="#000"/>
<circle cx="872.9" cy="186.8" r="3.3" fill="#000"/>
<circle cx="884.8" cy="180.6" r="3.3" fill="#000"/>
<circle cx="906.3" cy="194.3" r="3.3" fill="#000"/>
<circle cx="852.3" cy="200.0" r="3.3" fill="#000"/>
<circle cx="869.9" cy="161.5" r="3.3" fill="#000"/>
<circle cx="897.2" cy="188.4" r="3.3" fill="#000"/>
<circle cx="902.9" cy="193.1" r="3.3" fill="#000"/>
<circle cx="868.5" cy="210.0" r="3.3" fill="#000"/>
<circle cx="874.1" cy="183.5" r="3.3" fill="#BEBEBE"/>
<circle cx="853.1" cy="166.9" r="3.3" fill="#000"/>
<circle cx="895.8" cy="215.5" r="3.3" fill="#000"/>
<circle cx="869.2" cy="170.8" r="3.3" fill="#000"/>
<circle cx="898.4" cy="183.2" r="3.3" fill="#000"/>
<circle cx="869.3" cy="168.5" r="3.3" fill="#000"/>
<circle cx="882.4" cy="175.6" r="3.3" fill="#000"/>
<circle cx="909.5" cy="206.6" r="3.3" fill="#000"/>
<circle cx="902.7" cy="200.2" r="3.3" fill="#000"/>
<circle cx="866.3" cy="171.9" r="3.3" fill="#000"/>
<circle cx="894.3" cy="213.6" r="3.3" fill="#000"/>
<circle cx="897.4" cy="224.2" r="3.3" fill="#000"/>
<circle cx="849.9" cy="177.7" r="3.3" fill="#000"/>
<circle cx="862.2" cy="154.5" r="3.3" fill="#000"/>
<circle cx="866.3" cy="152.0" r="3.3" fill="#000"/>
<circle cx="889.8" cy="162.6" r="3.3" fill="#000"/>
<circle cx="860.5" cy="175.6" r="3.3" fill="#000"/>
<circle cx="858.5" cy="220.8" r="3.3" fill="#BEBEBE"/>
<circle cx="902.0" cy="161.2" r="3.3" fill="#000"/>
<circle cx="859.7" cy="185.4" r="3.3" fill="#000"/>
<circle cx="878.4" cy="192.2" r="3.3" fill="#000"/>
<circle cx="889.2" cy="172.7" r="3.3" fill="#000"/>
<circle cx="906.0" cy="157.7" r="3.3" fill="#000"/>
<circle cx="901.7" cy="209.0" r="3.3" fill="#000"/>
<circle cx="855.4" cy="156.9" r="3.3" fill="#000"/>
<circle cx="888.9" cy="151.3" r="3.3" fill="#000"/>
<circle cx="882.0" cy="164.2" r="3.3" fill="#000"/>
<circle cx="864.2" cy="154.8" r="3.3" fill="#000"/>
<circle cx="902.2" cy="214.0" r="3.3" fill="#BEBEBE"/>
<circle cx="906.1" cy="213.5" r="3.3" fill="#000"/>
<circle cx="897.1" cy="218.1" r="3.3" fill="#BEBEBE"/>
<circle cx="853.2" cy="183.3" r="3.3" fill="#000"/>
<circle cx="884.4" cy="156.7" r="3.3" fill="#000"/>
<circle cx="876.8" cy="188.6" r="3.3" fill="#000"/>
<circle cx="906.4" cy="219.8" r="3.3" fill="#000"/>
<circle cx="902.5" cy="172.9" r="3.3" fill="#000"/>
<circle cx="878.7" cy="183.0" r="3.3" fill="#000"/>
<circle cx="866.7" cy="214.5" r="3.3" fill="#BEBEBE"/>
<circle cx="861.2" cy="190.4" r="3.3" fill="#000"/>
<circle cx="853.4" cy="217.7" r="3.3" fill="#000"/>
<circle cx="854.3" cy="154.2" r="3.3" fill="#000"/>
<circle cx="888.5" cy="164.4" r="3.3" fill="#000"/>
<circle cx="903.3" cy="173.7" r="3.3" fill="#000"/>
<circle cx="895.7" cy="197.5" r="3.3" fill="#000"/>
<circle cx="870.7" cy="211.8" r="3.3" fill="#BEBEBE"/>
<circle cx="892.3" cy="173.9" r="3.3" fill="#BEBEBE"/>
<circle cx="886.1" cy="186.4" r="3.3" fill="#000"/>
<circle cx="889.8" cy="215.4" r="3.3" fill="#000"/>
<circle cx="897.7" cy="212.0" r="3.3" fill="#000"/>
<circle cx="861.8" cy="191.4" r="3.3" fill="#000"/>
<circle cx="903.9" cy="210.3" r="3.3" fill="#000"/>
<circle cx="872.4" cy="169.9" r="3.3" fill="#000"/>
<circle cx="902.5" cy="158.2" r="3.3" fill="#BEBEBE"/>
<circle cx="883.3" cy="207.7" r="3.3" fill="#BEBEBE"/>
<circle cx="881.4" cy="205.4" r="3.3" fill="#000"/>
<circle cx="886.2" cy="203.6" r="3.3" fill="#000"/>
<circle cx="899.2" cy="182.7" r="3.3" fill="#000"/>
<circle cx="904.1" cy="162.4" r="3.3" fill="#000"/>
<circle cx="882.3" cy="177.3" r="3.3" fill="#000"/>
<circle cx="880.0" cy="163.9" r="3.3" fill="#BEBEBE"/>
<circle cx="878.6" cy="219.9" r="3.3" fill="#000"/>
<circle cx="859.7" cy="190.0" r="3.3" fill="#000"/>
<circle cx="888.9" cy="190.4" r="3.3" fill="#000"/>
<circle cx="907.8" cy="168.4" r="3.3" fill="#000"/>
<circle cx="901.6" cy="212.9" r="3.3" fill="#000"/>
<circle cx="881.7" cy="163.3" r="3.3" fill="#000"/>
<circle cx="886.6" cy="158.9" r="3.3" fill="#000"/>
<circle cx="882.5" cy="191.4" r="3.3" fill="#000"/>
<circle cx="865.4" cy="166.6" r="3.3" fill="#000"/>
<circle cx="862.8" cy="216.9" r="3.3" fill="#000"/>
<circle cx="890.0" cy="192.4" r="3.3" fill="#BEBEBE"/>
<circle cx="857.7" cy="210.2" r="3.3" fill="#000"/>
<circle cx="880.6" cy="209.3" r="3.3" fill="#000"/>
<circle cx="885.6" cy="191.0" r="3.3" fill="#BEBEBE"/>
<circle cx="872.7" cy="208.5" r="3.3" fill="#000"/>
<circle cx="867.7" cy="173.3" r="3.3" fill="#000"/>
<circle cx="870.4" cy="183.2" r="3.3" fill="#000"/>
<circle cx="890.6" cy="188.9" r="3.3" fill="#000"/>
<circle cx="868.0" cy="208.1" r="3.3" fill="#000"/>
<circle cx="892.2" cy="172.5" r="3.3" fill="#000"/>
<circle cx="857.9" cy="171.7" r="3.3" fill="#000"/>
<circle cx="903.8" cy="192.6" r="3.3" fill="#BEBEBE"/>
<circle cx="855.7" cy="223.7" r="3.3" fill="#BEBEBE"/>
<circle cx="878.7" cy="174.7" r="3.3" fill="#000"/>
<circle cx="871.2" cy="208.0" r="3.3" fill="#000"/>
<circle cx="851.6" cy="210.2" r="3.3" fill="#000"/>
<circle cx="860.8" cy="186.8" r="3.3" fill="#000"/>
<circle cx="889.4" cy="223.2" r="3.3" fill="#BEBEBE"/>
<circle cx="900.7" cy="186.9" r="3.3" fill="#000"/>
<circle cx="895.9" cy="167.3" r="3.3" fill="#000"/>
<circle cx="854.1" cy="201.3" r="3.3" fill="#000"/>
<circle cx="884.9" cy="185.8" r="3.3" fill="#000"/>
<circle cx="907.6" cy="218.2" r="3.3" fill="#000"/>
<circle cx="881.2" cy="152.4" r="3.3" fill="#BEBEBE"/>
<circle cx="855.9" cy="224.6" r="3.3" fill="#000"/>
<circle cx="860.2" cy="152.9" r="3.3" fill="#000"/>
<circle cx="875.7" cy="185.9" r="3.3" fill="#000"/>
<circle cx="867.3" cy="196.6" r="3.3" fill="#000"/>
<circle cx="851.7" cy="167.9" r="3.3" fill="#000"/>
<circle cx="903.3" cy="223.9" r="3.3" fill="#000"/>
<circle cx="872.0" cy="225.3" r="3.3" fill="#BEBEBE"/>
<circle cx="860.5" cy="200.6" r="3.3" fill="#000"/>
<circle cx="905.7" cy="180.8" r="3.3" fill="#BEBEBE"/>
<circle cx="887.3" cy="168.5" r="3.3" fill="#000"/>
<circle cx="879.1" cy="203.1" r="3.3" fill="#000"/>
<circle cx="889.6" cy="175.5" r="3.3" fill="#000"/>
<circle cx="906.0" cy="171.8" r="3.3" fill="#000"/>
<circle cx="860.5" cy="159.7" r="3.3" fill="#000"/>
<circle cx="905.6" cy="194.0" r="3.3" fill="#000"/>
<circle cx="870.8" cy="201.3" r="3.3" fill="#000"/>
<circle cx="884.1" cy="189.5" r="3.3" fill="#000"/>
<circle cx="863.4" cy="182.0" r="3.3" fill="#000"/>
<circle cx="897.2" cy="212.5" r="3.3" fill="#000"/>
<circle cx="871.4" cy="151.9" r="3.3" fill="#000"/>
<circle cx="890.0" cy="157.7" r="3.3" fill="#000"/>
<circle cx="887.7" cy="159.3" r="3.3" fill="#000"/>
<circle cx="865.1" cy="190.4" r="3.3" fill="#000"/>
<circle cx="873.9" cy="167.2" r="3.3" fill="#000"/>
<circle cx="905.8" cy="224.8" r="3.3" fill="#000"/>
<circle cx="874.2" cy="210.2" r="3.3" fill="#000"/>
<circle cx="874.4" cy="163.3" r="3.3" fill="#000"/>
<circle cx="889.0" cy="184.3" r="3.3" fill="#000"/>
<circle cx="855.3" cy="169.2" r="3.3" fill="#000"/>
<circle cx="879.7" cy="176.4" r="3.3" fill="#000"/>
<circle cx="861.4" cy="196.3" r="3.3" fill="#000"/>
<circle cx="901.3" cy="167.4" r="3.3" fill="#000"/>
<circle cx="889.9" cy="163.3" r="3.3" fill="#000"/>
<circle cx="867.0" cy="173.3" r="3.3" fill="#000"/>
<circle cx="899.3" cy="224.4" r="3.3" fill="#000"/>
<circle cx="874.2" cy="156.8" r="3.3" fill="#000"/>
<circle cx="890.1" cy="158.4" r="3.3" fill="#000"/>
<circle cx="889.9" cy="193.8" r="3.3" fill="#000"/>
<circle cx="885.5" cy="174.7" r="3.3" fill="#BEBEBE"/>
<circle cx="886.2" cy="199.5" r="3.3" fill="#000"/>
<circle cx="881.3" cy="178.2" r="3.3" fill="#000"/>
<circle cx="902.4" cy="219.8" r="3.3" fill="#000"/>
<circle cx="887.6" cy="187.0" r="3.3" fill="#000"/>
<circle cx="903.9" cy="208.4" r="3.3" fill="#BEBEBE"/>
<circle cx="899.4" cy="204.1" r="3.3" fill="#BEBEBE"/>
<circle cx="861.2" cy="186.1" r="3.3" fill="#000"/>
<circle cx="861.7" cy="208.3" r="3.3" fill="#000"/>
<circle cx="889.1" cy="179.5" r="3.3" fill="#000"/>
<circle cx="866.3" cy="168.6" r="3.3" fill="#000"/>
<circle cx="905.9" cy="169.0" r="3.3" fill="#000"/>
<circle cx="882.8" cy="194.5" r="3.3" fill="#000"/>
<circle cx="886.9" cy="188.1" r="3.3" fill="#000"/>
<circle cx="858.4" cy="199.4" r="3.3" fill="#000"/>
<circle cx="893.3" cy="185.3" r="3.3" fill="#000"/>
<circle cx="880.3" cy="170.1" r="3.3" fill="#000"/>
<circle cx="853.5" cy="222.2" r="3.3" fill="#000"/>
<circle cx="867.4" cy="179.9" r="3.3" fill="#000"/>
<circle cx="874.0" cy="150.1" r="3.3" fill="#000"/>
<circle cx="908.6" cy="212.8" r="3.3" fill="#000"/>
<circle cx="871.0" cy="171.5" r="3.3" fill="#000"/>
<circle cx="900.3" cy="181.5" r="3.3" fill="#000"/>
<circle cx="861.9" cy="151.4" r="3.3" fill="#000"/>
<circle cx="851.0" cy="172.4" r="3.3" fill="#000"/>
<circle cx="886.4" cy="195.4" r="3.3" fill="#000"/>
<circle cx="878.6" cy="162.7" r="3.3" fill="#000"/>
<circle cx="880.3" cy="153.3" r="3.3" fill="#000"/>
<circle cx="905.7" cy="172.0" r="3.3" fill="#000"/>
<circle cx="862.0" cy="174.3" r="3.3" fill="#000"/>
<circle cx="868.3" cy="159.1" r="3.3" fill="#000"/>
<circle cx="878.9" cy="173.1" r="3.3" fill="#000"/>
<circle cx="851.0" cy="209.4" r="3.3" fill="#000"/>
<circle cx="878.3" cy="205.6" r="3.3" fill="#000"/>
<circle cx="893.2" cy="164.3" r="3.3" fill="#000"/>
<circle cx="854.9" cy="163.7" r="3.3" fill="#000"/>
<circle cx="894.4" cy="156.5" r="3.3" fill="#BEBEBE"/>
<circle cx="902.7" cy="198.5" r="3.3" fill="#000"/>
<circle cx="854.0" cy="162.4" r="3.3" fill="#000"/>
<circle cx="866.6" cy="175.2" r="3.3" fill="#000"/>
<circle cx="901.8" cy="199.0" r="3.3" fill="#000"/>
<circle cx="901.3" cy="187.7" r="3.3" fill="#000"/>
<circle cx="885.5" cy="202.6" r="3.3" fill="#000"/>
<circle cx="901.4" cy="216.0" r="3.3" fill="#BEBEBE"/>
<circle cx="870.7" cy="218.1" r="3.3" fill="#000"/>
<circle cx="887.5" cy="154.1" r="3.3" fill="#BEBEBE"/>
<circle cx="880.3" cy="195.7" r="3.3" fill="#000"/>
<circle cx="866.5" cy="179.4" r="3.3" fill="#000"/>
<circle cx="888.6" cy="179.3" r="3.3" fill="#000"/>
<circle cx="862.2" cy="204.4" r="3.3" fill="#000"/>
<circle cx="863.9" cy="150.9" r="3.3" fill="#000"/>
<circle cx="866.7" cy="218.3" r="3.3" fill="#BEBEBE"/>
<circle cx="870.5" cy="167.5" r="3.3" fill="#000"/>
<circle cx="878.5" cy="155.2" r="3.3" fill="#000"/>
<circle cx="879.1" cy="225.5" r="3.3" fill="#000"/>
<circle cx="890.1" cy="214.5" r="3.3" fill="#000"/>
<circle cx="909.0" cy="184.1" r="3.3" fill="#000"/>
<circle cx="905.6" cy="178.3" r="3.3" fill="#000"/>
<circle cx="894.6" cy="208.6" r="3.3" fill="#000"/>
<circle cx="881.0" cy="159.1" r="3.3" fill="#000"/>
<circle cx="874.5" cy="183.5" r="3.3" fill="#000"/>
<circle cx="856.1" cy="215.1" r="3.3" fill="#000"/>
<circle cx="882.9" cy="222.8" r="3.3" fill="#000"/>
<circle cx="852.0" cy="170.3" r="3.3" fill="#000"/>
<circle cx="889.9" cy="186.7" r="3.3" fill="#000"/>
<circle cx="908.8" cy="174.7" r="3.3" fill="#000"/>
<circle cx="889.2" cy="161.6" r="3.3" fill="#000"/>
<circle cx="896.3" cy="206.1" r="3.3" fill="#BEBEBE"/>
<circle cx="904.7" cy="173.9" r="3.3" fill="#000"/>
<circle cx="885.1" cy="222.5" r="3.3" fill="#000"/>
<circle cx="898.7" cy="224.4" r="3.3" fill="#000"/>
<circle cx="854.7" cy="165.0" r="3.3" fill="#000"/>
<circle cx="849.9" cy="163.3" r="3.3" fill="#BEBEBE"/>
<circle cx="894.6" cy="192.0" r="3.3" fill="#000"/>
<circle cx="881.6" cy="171.2" r="3.3" fill="#000"/>
<circle cx="859.9" cy="181.8" r="3.3" fill="#000"/>
<circle cx="876.2" cy="157.8" r="3.3" fill="#000"/>
<circle cx="878.4" cy="213.5" r="3.3" fill="#000"/>
<circle cx="886.0" cy="171.4" r="3.3" fill="#000"/>
<circle cx="946.9" cy="180.3" r="3.3" fill="#000"/>
<circle cx="918.9" cy="198.8" r="3.3" fill="#000"/>
<circle cx="911.2" cy="203.7" r="3.3" fill="#000"/>
<circle cx="924.8" cy="172.0" r="3.3" fill="#000"/>
<circle cx="943.6" cy="245.2" r="3.3" fill="#000"/>
<circle cx="922.8" cy="206.4" r="3.3" fill="#000"/>
<circle cx="927.5" cy="196.4" r="3.3" fill="#BEBEBE"/>
<circle cx="929.7" cy="189.3" r="3.3" fill="#000"/>
<circle cx="931.5" cy="205.5" r="3.3" fill="#000"/>
<circle cx="918.2" cy="196.2" r="3.3" fill="#000"/>
<circle cx="938.5" cy="172.7" r="3.3" fill="#000"/>
<circle cx="945.7" cy="243.8" r="3.3" fill="#000"/>
<circle cx="930.9" cy="179.2" r="3.3" fill="#000"/>
<circle cx="916.3" cy="167.0" r="3.3" fill="#000"/>
<circle cx="921.7" cy="150.3" r="3.3" fill="#000"/>
<circle cx="943.7" cy="178.0" r="3.3" fill="#BEBEBE"/>
<circle cx="920.2" cy="189.5" r="3.3" fill="#000"/>
<circle cx="927.9" cy="196.1" r="3.3" fill="#000"/>
<circle cx="909.0" cy="187.0" r="3.3" fill="#000"/>
<circle cx="913.2" cy="182.5" r="3.3" fill="#000"/>
<circle cx="910.1" cy="192.1" r="3.3" fill="#000"/>
<circle cx="938.8" cy="232.8" r="3.3" fill="#000"/>
<circle cx="948.1" cy="213.1" r="3.3" fill="#000"/>
<circle cx="939.0" cy="183.6" r="3.3" fill="#BEBEBE"/>
<circle cx="941.5" cy="243.3" r="3.3" fill="#000"/>
<circle cx="935.9" cy="189.5" r="3.3" fill="#000"/>
<circle cx="925.3" cy="215.7" r="3.3" fill="#000"/>
<circle cx="946.6" cy="160.5" r="3.3" fill="#000"/>
<circle cx="916.6" cy="197.3" r="3.3" fill="#000"/>
<circle cx="929.4" cy="153.7" r="3.3" fill="#000"/>
<circle cx="922.7" cy="227.1" r="3.3" fill="#000"/>
<circle cx="946.6" cy="205.2" r="3.3" fill="#000"/>
<circle cx="946.8" cy="174.8" r="3.3" fill="#000"/>
<circle cx="916.2" cy="155.3" r="3.3" fill="#000"/>
<circle cx="917.2" cy="209.8" r="3.3" fill="#000"/>
<circle cx="946.5" cy="173.7" r="3.3" fill="#000"/>
<circle cx="927.7" cy="161.8" r="3.3" fill="#000"/>
<circle cx="928.4" cy="249.5" r="3.3" fill="#000"/>
<circle cx="940.6" cy="244.4" r="3.3" fill="#000"/>
<circle cx="914.9" cy="198.4" r="3.3" fill="#000"/>
<circle cx="935.4" cy="154.1" r="3.3" fill="#000"/>
<circle cx="937.5" cy="220.7" r="3.3" fill="#000"/>
<circle cx="909.0" cy="230.8" r="3.3" fill="#000"/>
<circle cx="921.2" cy="177.1" r="3.3" fill="#BEBEBE"/>
<circle cx="930.2" cy="243.1" r="3.3" fill="#000"/>
<circle cx="921.7" cy="202.0" r="3.3" fill="#000"/>
<circle cx="932.2" cy="208.7" r="3.3" fill="#000"/>
<circle cx="920.8" cy="209.4" r="3.3" fill="#BEBEBE"/>
<circle cx="912.1" cy="193.6" r="3.3" fill="#000"/>
<circle cx="947.6" cy="191.7" r="3.3" fill="#000"/>
<circle cx="928.9" cy="227.6" r="3.3" fill="#000"/>
<circle cx="944.2" cy="201.8" r="3.3" fill="#000"/>
<circle cx="937.4" cy="216.2" r="3.3" fill="#000"/>
<circle cx="912.5" cy="248.9" r="3.3" fill="#000"/>
<circle cx="941.5" cy="232.3" r="3.3" fill="#000"/>
<circle cx="946.5" cy="164.2" r="3.3" fill="#000"/>
<circle cx="939.1" cy="248.3" r="3.3" fill="#000"/>
<circle cx="916.6" cy="231.2" r="3.3" fill="#000"/>
<circle cx="944.7" cy="243.1" r="3.3" fill="#000"/>
<circle cx="923.1" cy="160.8" r="3.3" fill="#000"/>
<circle cx="934.1" cy="185.8" r="3.3" fill="#000"/>
<circle cx="918.7" cy="227.4" r="3.3" fill="#000"/>
<circle cx="942.4" cy="192.0" r="3.3" fill="#000"/>
<circle cx="917.3" cy="189.9" r="3.3" fill="#BEBEBE"/>
<circle cx="923.1" cy="195.3" r="3.3" fill="#000"/>
<circle cx="940.0" cy="244.1" r="3.3" fill="#BEBEBE"/>
<circle cx="908.3" cy="150.1" r="3.3" fill="#000"/>
<circle cx="948.4" cy="208.0" r="3.3" fill="#000"/>
<circle cx="925.5" cy="191.1" r="3.3" fill="#000"/>
<circle cx="931.0" cy="246.8" r="3.3" fill="#000"/>
<circle cx="945.2" cy="192.1" r="3.3" fill="#000"/>
<circle cx="918.2" cy="155.0" r="3.3" fill="#000"/>
<circle cx="947.2" cy="205.2" r="3.3" fill="#000"/>
<circle cx="913.9" cy="161.1" r="3.3" fill="#000"/>
<circle cx="934.1" cy="223.6" r="3.3" fill="#000"/>
<circle cx="912.7" cy="210.5" r="3.3" fill="#000"/>
<circle cx="945.3" cy="168.0" r="3.3" fill="#000"/>
<circle cx="929.7" cy="220.3" r="3.3" fill="#000"/>
<circle cx="911.1" cy="174.3" r="3.3" fill="#000"/>
<circle cx="917.1" cy="247.3" r="3.3" fill="#000"/>
<circle cx="933.6" cy="158.2" r="3.3" fill="#000"/>
<circle cx="944.8" cy="181.0" r="3.3" fill="#BEBEBE"/>
<circle cx="908.8" cy="205.3" r="3.3" fill="#000"/>
<circle cx="942.1" cy="163.7" r="3.3" fill="#000"/>
<circle cx="935.8" cy="156.4" r="3.3" fill="#BEBEBE"/>
<circle cx="940.1" cy="179.1" r="3.3" fill="#000"/>
<circle cx="912.1" cy="187.2" r="3.3" fill="#000"/>
<circle cx="941.4" cy="183.4" r="3.3" fill="#000"/>
<circle cx="924.7" cy="207.7" r="3.3" fill="#000"/>
<circle cx="933.9" cy="177.2" r="3.3" fill="#000"/>
<circle cx="939.8" cy="160.3" r="3.3" fill="#000"/>
<circle cx="945.1" cy="239.2" r="3.3" fill="#000"/>
<circle cx="948.7" cy="225.4" r="3.3" fill="#000"/>
<circle cx="943.4" cy="210.1" r="3.3" fill="#000"/>
<circle cx="915.1" cy="192.4" r="3.3" fill="#000"/>
<circle cx="920.2" cy="239.5" r="3.3" fill="#000"/>
<circle cx="942.9" cy="168.3" r="3.3" fill="#000"/>
<circle cx="926.0" cy="225.1" r="3.3" fill="#000"/>
<circle cx="949.9" cy="201.4" r="3.3" fill="#000"/>
<circle cx="945.2" cy="156.6" r="3.3" fill="#000"/>
<circle cx="930.5" cy="204.2" r="3.3" fill="#000"/>
<circle cx="923.8" cy="215.6" r="3.3" fill="#000"/>
<circle cx="912.0" cy="207.3" r="3.3" fill="#000"/>
<circle cx="924.6" cy="196.4" r="3.3" fill="#000"/>
<circle cx="916.7" cy="246.8" r="3.3" fill="#000"/>
<circle cx="932.0" cy="211.9" r="3.3" fill="#000"/>
<circle cx="918.0" cy="209.9" r="3.3" fill="#000"/>
<circle cx="908.1" cy="241.8" r="3.3" fill="#000"/>
<circle cx="941.1" cy="179.0" r="3.3" fill="#000"/>
<circle cx="908.2" cy="226.1" r="3.3" fill="#000"/>
<circle cx="909.7" cy="245.0" r="3.3" fill="#BEBEBE"/>
<circle cx="937.1" cy="234.3" r="3.3" fill="#000"/>
<circle cx="924.3" cy="169.5" r="3.3" fill="#000"/>
<circle cx="908.3" cy="208.2" r="3.3" fill="#000"/>
<circle cx="943.7" cy="202.0" r="3.3" fill="#BEBEBE"/>
<circle cx="934.8" cy="183.7" r="3.3" fill="#000"/>
<circle cx="920.6" cy="220.5" r="3.3" fill="#000"/>
<circle cx="918.8" cy="181.9" r="3.3" fill="#000"/>
<circle cx="925.9" cy="243.3" r="3.3" fill="#000"/>
<circle cx="920.0" cy="201.5" r="3.3" fill="#000"/>
<circle cx="926.6" cy="178.6" r="3.3" fill="#000"/>
<circle cx="918.7" cy="210.7" r="3.3" fill="#000"/>
<circle cx="914.7" cy="183.6" r="3.3" fill="#000"/>
<circle cx="912.0" cy="173.2" r="3.3" fill="#000"/>
<circle cx="942.6" cy="185.0" r="3.3" fill="#000"/>
<circle cx="934.1" cy="173.2" r="3.3" fill="#000"/>
<circle cx="935.9" cy="243.2" r="3.3" fill="#000"/>
<circle cx="938.2" cy="228.4" r="3.3" fill="#000"/>
<circle cx="911.8" cy="220.1" r="3.3" fill="#000"/>
<circle cx="948.8" cy="168.4" r="3.3" fill="#BEBEBE"/>
<circle cx="920.5" cy="162.4" r="3.3" fill="#000"/>
<circle cx="936.6" cy="196.9" r="3.3" fill="#000"/>
<circle cx="920.9" cy="249.2" r="3.3" fill="#000"/>
<circle cx="945.8" cy="247.3" r="3.3" fill="#000"/>
<circle cx="921.0" cy="189.1" r="3.3" fill="#000"/>
<circle cx="914.3" cy="242.6" r="3.3" fill="#000"/>
<circle cx="948.1" cy="167.5" r="3.3" fill="#000"/>
<circle cx="940.5" cy="239.7" r="3.3" fill="#000"/>
<circle cx="928.1" cy="198.0" r="3.3" fill="#000"/>
<circle cx="932.5" cy="206.8" r="3.3" fill="#000"/>
<circle cx="943.8" cy="162.0" r="3.3" fill="#000"/>
<circle cx="908.0" cy="223.1" r="3.3" fill="#000"/>
<circle cx="873.4" cy="248.4" r="3.3" fill="#000"/>
<circle cx="904.1" cy="246.2" r="3.3" fill="#000"/>
<circle cx="893.2" cy="223.7" r="3.3" fill="#000"/>
<circle cx="900.8" cy="242.6" r="3.3" fill="#000"/>
<circle cx="907.9" cy="248.9" r="3.3" fill="#000"/>
<circle cx="894.7" cy="228.2" r="3.3" fill="#000"/>
<circle cx="897.9" cy="226.7" r="3.3" fill="#000"/>
<circle cx="907.8" cy="242.8" r="3.3" fill="#000"/>
<circle cx="854.5" cy="231.1" r="3.3" fill="#000"/>
<circle cx="902.1" cy="251.5" r="3.3" fill="#000"/>
<circle cx="855.3" cy="224.8" r="3.3" fill="#000"/>
<circle cx="902.6" cy="227.7" r="3.3" fill="#000"/>
<circle cx="852.1" cy="225.7" r="3.3" fill="#000"/>
<circle cx="906.1" cy="228.2" r="3.3" fill="#000"/>
<circle cx="887.1" cy="245.7" r="3.3" fill="#000"/>
<circle cx="862.8" cy="238.9" r="3.3" fill="#000"/>
<circle cx="895.8" cy="226.1" r="3.3" fill="#000"/>
<circle cx="894.5" cy="244.2" r="3.3" fill="#000"/>
<circle cx="860.2" cy="245.5" r="3.3" fill="#000"/>
<circle cx="904.9" cy="240.0" r="3.3" fill="#000"/>
<circle cx="899.8" cy="245.5" r="3.3" fill="#000"/>
<circle cx="873.0" cy="241.3" r="3.3" fill="#000"/>
<circle cx="878.7" cy="240.5" r="3.3" fill="#000"/>
<circle cx="856.1" cy="227.7" r="3.3" fill="#000"/>
<circle cx="861.9" cy="235.6" r="3.3" fill="#BEBEBE"/>
<circle cx="851.8" cy="232.3" r="3.3" fill="#000"/>
<circle cx="852.7" cy="244.8" r="3.3" fill="#000"/>
<circle cx="896.5" cy="231.1" r="3.3" fill="#000"/>
<circle cx="860.9" cy="246.7" r="3.3" fill="#000"/>
<circle cx="891.2" cy="252.3" r="3.3" fill="#BEBEBE"/>
<circle cx="902.7" cy="244.4" r="3.3" fill="#000"/>
<circle cx="870.4" cy="239.4" r="3.3" fill="#000"/>
<circle cx="874.3" cy="239.9" r="3.3" fill="#000"/>
<circle cx="864.1" cy="249.2" r="3.3" fill="#000"/>
<circle cx="864.2" cy="238.4" r="3.3" fill="#000"/>
<circle cx="892.9" cy="230.9" r="3.3" fill="#BEBEBE"/>
<circle cx="862.0" cy="248.7" r="3.3" fill="#000"/>
<circle cx="890.7" cy="238.4" r="3.3" fill="#000"/>
<circle cx="901.8" cy="243.0" r="3.3" fill="#000"/>
<circle cx="860.2" cy="225.7" r="3.3" fill="#000"/>
<circle cx="853.0" cy="229.7" r="3.3" fill="#000"/>
<circle cx="875.2" cy="230.0" r="3.3" fill="#000"/>
<circle cx="866.6" cy="232.1" r="3.3" fill="#000"/>
<circle cx="883.2" cy="223.4" r="3.3" fill="#000"/>
<circle cx="882.1" cy="240.2" r="3.3" fill="#000"/>
<circle cx="879.8" cy="242.4" r="3.3" fill="#000"/>
<circle cx="853.6" cy="233.0" r="3.3" fill="#000"/>
<circle cx="887.7" cy="223.6" r="3.3" fill="#BEBEBE"/>
<circle cx="859.9" cy="250.9" r="3.3" fill="#BEBEBE"/>
<circle cx="876.5" cy="226.9" r="3.3" fill="#000"/>
<circle cx="873.7" cy="223.7" r="3.3" fill="#000"/>
<circle cx="895.6" cy="249.5" r="3.3" fill="#BEBEBE"/>
<circle cx="887.7" cy="235.5" r="3.3" fill="#000"/>
<circle cx="859.8" cy="241.1" r="3.3" fill="#000"/>
<circle cx="883.5" cy="239.1" r="3.3" fill="#000"/>
<circle cx="863.4" cy="232.5" r="3.3" fill="#000"/>
<circle cx="894.6" cy="222.7" r="3.3" fill="#000"/>
<circle cx="889.1" cy="250.0" r="3.3" fill="#000"/>
<circle cx="876.1" cy="242.1" r="3.3" fill="#BEBEBE"/>
<circle cx="886.8" cy="225.6" r="3.3" fill="#000"/>
<circle cx="898.2" cy="229.7" r="3.3" fill="#000"/>
<circle cx="870.7" cy="227.7" r="3.3" fill="#000"/>
<circle cx="865.3" cy="253.6" r="3.3" fill="#000"/>
<circle cx="849.2" cy="234.2" r="3.3" fill="#000"/>
<circle cx="864.5" cy="252.3" r="3.3" fill="#BEBEBE"/>
<circle cx="864.3" cy="229.6" r="3.3" fill="#000"/>
<circle cx="852.0" cy="236.6" r="3.3" fill="#000"/>
<circle cx="853.5" cy="233.3" r="3.3" fill="#000"/>
<circle cx="859.8" cy="235.1" r="3.3" fill="#000"/>
<circle cx="890.0" cy="226.8" r="3.3" fill="#000"/>
<circle cx="881.3" cy="247.0" r="3.3" fill="#000"/>
<circle cx="872.6" cy="222.9" r="3.3" fill="#000"/>
<circle cx="880.9" cy="234.7" r="3.3" fill="#000"/>
<circle cx="890.4" cy="231.3" r="3.3" fill="#000"/>
<circle cx="855.1" cy="229.6" r="3.3" fill="#000"/>
<circle cx="858.9" cy="232.0" r="3.3" fill="#000"/>
<circle cx="894.2" cy="236.1" r="3.3" fill="#000"/>
<circle cx="905.2" cy="227.1" r="3.3" fill="#000"/>
<circle cx="923.9" cy="251.3" r="3.3" fill="#000"/>
<circle cx="941.5" cy="241.1" r="3.3" fill="#000"/>
<circle cx="911.2" cy="237.3" r="3.3" fill="#BEBEBE"/>
<circle cx="933.1" cy="237.1" r="3.3" fill="#000"/>
<circle cx="928.2" cy="248.0" r="3.3" fill="#000"/>
<circle cx="909.3" cy="243.5" r="3.3" fill="#000"/>
<circle cx="944.6" cy="227.5" r="3.3" fill="#000"/>
<circle cx="914.6" cy="256.4" r="3.3" fill="#000"/>
<circle cx="939.8" cy="256.5" r="3.3" fill="#000"/>
<circle cx="933.4" cy="252.2" r="3.3" fill="#000"/>
<circle cx="909.3" cy="241.5" r="3.3" fill="#000"/>
<circle cx="935.1" cy="256.9" r="3.3" fill="#000"/>
<circle cx="917.6" cy="254.2" r="3.3" fill="#BEBEBE"/>
<circle cx="920.5" cy="255.0" r="3.3" fill="#000"/>
<circle cx="941.5" cy="231.5" r="3.3" fill="#000"/>
<circle cx="923.2" cy="235.7" r="3.3" fill="#000"/>
<circle cx="945.6" cy="230.8" r="3.3" fill="#000"/>
<circle cx="919.7" cy="228.0" r="3.3" fill="#000"/>
<circle cx="938.3" cy="230.4" r="3.3" fill="#BEBEBE"/>
<circle cx="910.1" cy="243.5" r="3.3" fill="#000"/>
<circle cx="909.1" cy="228.1" r="3.3" fill="#000"/>
<circle cx="908.0" cy="257.5" r="3.3" fill="#000"/>
<circle cx="935.2" cy="225.3" r="3.3" fill="#BEBEBE"/>
<circle cx="948.4" cy="239.3" r="3.3" fill="#000"/>
<circle cx="917.0" cy="237.3" r="3.3" fill="#000"/>
<circle cx="946.4" cy="237.0" r="3.3" fill="#000"/>
<circle cx="928.3" cy="240.3" r="3.3" fill="#000"/>
<circle cx="947.5" cy="248.4" r="3.3" fill="#000"/>
<circle cx="926.8" cy="254.7" r="3.3" fill="#000"/>
<circle cx="908.3" cy="225.6" r="3.3" fill="#000"/>
<circle cx="942.5" cy="245.8" r="3.3" fill="#000"/>
<circle cx="927.3" cy="241.0" r="3.3" fill="#000"/>
<circle cx="931.8" cy="245.6" r="3.3" fill="#000"/>
<circle cx="925.7" cy="250.6" r="3.3" fill="#000"/>
<circle cx="906.3" cy="207.1" r="3.3" fill="#000"/>
<circle cx="909.2" cy="206.2" r="3.3" fill="#000"/>
<circle cx="913.7" cy="205.2" r="3.3" fill="#000"/>
<circle cx="918.4" cy="206.7" r="3.3" fill="#000"/>
<circle cx="922.1" cy="207.5" r="3.3" fill="#000"/>
<circle cx="928.6" cy="204.7" r="3.3" fill="#000"/>
<circle cx="932.2" cy="205.3" r="3.3" fill="#000"/>
<circle cx="937.0" cy="207.2" r="3.3" fill="#000"/>
<circle cx="906.4" cy="208.9" r="3.3" fill="#000"/>
<circle cx="910.1" cy="211.5" r="3.3" fill="#000"/>
<circle cx="915.3" cy="209.1" r="3.3" fill="#000"/>
<circle cx="918.2" cy="208.9" r="3.3" fill="#000"/>
<circle cx="923.7" cy="211.6" r="3.3" fill="#000"/>
<circle cx="929.0" cy="209.3" r="3.3" fill="#000"/>
<circle cx="930.9" cy="210.5" r="3.3" fill="#000"/>
<circle cx="937.5" cy="210.3" r="3.3" fill="#000"/>
<circle cx="906.0" cy="214.5" r="3.3" fill="#000"/>
<circle cx="909.9" cy="213.4" r="3.3" fill="#000"/>
<circle cx="915.4" cy="215.3" r="3.3" fill="#000"/>
<circle cx="919.3" cy="213.6" r="3.3" fill="#000"/>
<circle cx="925.0" cy="215.3" r="3.3" fill="#000"/>
<circle cx="928.2" cy="214.3" r="3.3" fill="#000"/>
<circle cx="931.9" cy="215.7" r="3.3" fill="#000"/>
<circle cx="937.1" cy="214.0" r="3.3" fill="#000"/>
<circle cx="1112.9" cy="184.5" r="3.3" fill="#BEBEBE"/>
<circle cx="1060.3" cy="154.0" r="3.3" fill="#BEBEBE"/>
<circle cx="1076.3" cy="166.4" r="3.3" fill="#BEBEBE"/>
<circle cx="1168.3" cy="248.6" r="3.3" fill="#BEBEBE"/>
<circle cx="1100.5" cy="217.4" r="3.3" fill="#BEBEBE"/>
<circle cx="1123.3" cy="221.7" r="3.3" fill="#BEBEBE"/>
<circle cx="1120.1" cy="234.4" r="3.3" fill="#BEBEBE"/>
<circle cx="1127.1" cy="246.6" r="3.3" fill="#BEBEBE"/>
<circle cx="1123.8" cy="171.0" r="3.3" fill="#BEBEBE"/>
<circle cx="1066.7" cy="167.6" r="3.3" fill="#BEBEBE"/>
<circle cx="1154.5" cy="146.8" r="3.3" fill="#BEBEBE"/>
<circle cx="1095.5" cy="216.6" r="3.3" fill="#BEBEBE"/>
<circle cx="1088.6" cy="209.6" r="3.3" fill="#BEBEBE"/>
<circle cx="1166.7" cy="150.6" r="3.3" fill="#BEBEBE"/>
<circle cx="1107.2" cy="205.2" r="3.3" fill="#BEBEBE"/>
<circle cx="1123.5" cy="172.2" r="3.3" fill="#BEBEBE"/>
<circle cx="1136.2" cy="254.0" r="3.3" fill="#BEBEBE"/>
<circle cx="1020.7" cy="184.9" r="3.3" fill="#BEBEBE"/>
<circle cx="1083.3" cy="257.3" r="3.3" fill="#BEBEBE"/>
<circle cx="1139.6" cy="249.8" r="3.3" fill="#BEBEBE"/>
<circle cx="1055.4" cy="215.2" r="3.3" fill="#BEBEBE"/>
<circle cx="1072.6" cy="183.1" r="3.3" fill="#BEBEBE"/>
<circle cx="1065.0" cy="216.2" r="3.3" fill="#BEBEBE"/>
<circle cx="1076.8" cy="181.5" r="3.3" fill="#BEBEBE"/>
<circle cx="1120.0" cy="162.4" r="3.3" fill="#BEBEBE"/>
<circle cx="1087.1" cy="212.6" r="3.3" fill="#BEBEBE"/>
<circle cx="1069.6" cy="236.4" r="3.3" fill="#BEBEBE"/>
<circle cx="1099.9" cy="205.2" r="3.3" fill="#BEBEBE"/>
<circle cx="1071.3" cy="141.0" r="3.3" fill="#BEBEBE"/>
<circle cx="1147.5" cy="227.7" r="3.3" fill="#BEBEBE"/>
<circle cx="1033.4" cy="252.2" r="3.3" fill="#BEBEBE"/>
<circle cx="1095.1" cy="221.3" r="3.3" fill="#BEBEBE"/>
<circle cx="1004.1" cy="219.3" r="3.3" fill="#BEBEBE"/>
<circle cx="1166.1" cy="208.6" r="3.3" fill="#BEBEBE"/>
<circle cx="1006.1" cy="176.6" r="3.3" fill="#BEBEBE"/>
<circle cx="1160.4" cy="201.0" r="3.3" fill="#BEBEBE"/>
<circle cx="1169.6" cy="187.6" r="3.3" fill="#BEBEBE"/>
<circle cx="1107.2" cy="192.9" r="3.3" fill="#BEBEBE"/>
<circle cx="1092.6" cy="210.1" r="3.3" fill="#BEBEBE"/>
<circle cx="1152.3" cy="211.4" r="3.3" fill="#BEBEBE"/>
<circle cx="1021.2" cy="236.7" r="3.3" fill="#BEBEBE"/>
<circle cx="1092.1" cy="259.1" r="3.3" fill="#BEBEBE"/>
<circle cx="1167.8" cy="195.0" r="3.3" fill="#BEBEBE"/>
<circle cx="1135.1" cy="190.8" r="3.3" fill="#BEBEBE"/>
<circle cx="1092.2" cy="154.4" r="3.3" fill="#BEBEBE"/>
<circle cx="1126.0" cy="142.3" r="3.3" fill="#BEBEBE"/>
<circle cx="1005.9" cy="252.4" r="3.3" fill="#BEBEBE"/>
<circle cx="1130.2" cy="187.1" r="3.3" fill="#BEBEBE"/>
<circle cx="1056.1" cy="201.6" r="3.3" fill="#BEBEBE"/>
<circle cx="1124.9" cy="163.0" r="3.3" fill="#BEBEBE"/>
<circle cx="1067.7" cy="238.4" r="3.3" fill="#BEBEBE"/>
<circle cx="1115.2" cy="226.6" r="3.3" fill="#BEBEBE"/>
<circle cx="1106.4" cy="173.1" r="3.3" fill="#BEBEBE"/>
<circle cx="1016.0" cy="252.1" r="3.3" fill="#BEBEBE"/>
<circle cx="1125.5" cy="231.7" r="3.3" fill="#BEBEBE"/>
<circle cx="1025.3" cy="215.5" r="3.3" fill="#BEBEBE"/>
<circle cx="1048.4" cy="160.5" r="3.3" fill="#BEBEBE"/>
<circle cx="1119.2" cy="146.1" r="3.3" fill="#BEBEBE"/>
<circle cx="1057.5" cy="196.9" r="3.3" fill="#BEBEBE"/>
<circle cx="1020.3" cy="238.9" r="3.3" fill="#BEBEBE"/>
<circle cx="973.3" cy="240.5" r="3.3" fill="#000"/>
<circle cx="987.9" cy="232.5" r="3.3" fill="#000"/>
<circle cx="949.6" cy="201.5" r="3.3" fill="#000"/>
<circle cx="975.2" cy="205.5" r="3.3" fill="#BEBEBE"/>
<circle cx="983.9" cy="169.7" r="3.3" fill="#000"/>
<circle cx="980.6" cy="228.5" r="3.3" fill="#000"/>
<circle cx="984.7" cy="184.8" r="3.3" fill="#000"/>
<circle cx="994.4" cy="226.4" r="3.3" fill="#BEBEBE"/>
<circle cx="974.5" cy="217.8" r="3.3" fill="#000"/>
<circle cx="956.2" cy="200.4" r="3.3" fill="#BEBEBE"/>
<circle cx="987.3" cy="198.5" r="3.3" fill="#000"/>
<circle cx="969.3" cy="152.3" r="3.3" fill="#BEBEBE"/>
<circle cx="972.5" cy="154.4" r="3.3" fill="#000"/>
<circle cx="962.7" cy="225.2" r="3.3" fill="#BEBEBE"/>
<circle cx="950.4" cy="208.1" r="3.3" fill="#BEBEBE"/>
<circle cx="949.8" cy="236.0" r="3.3" fill="#000"/>
<circle cx="993.9" cy="171.6" r="3.3" fill="#BEBEBE"/>
<circle cx="983.5" cy="165.0" r="3.3" fill="#000"/>
<circle cx="993.4" cy="212.0" r="3.3" fill="#000"/>
<circle cx="952.0" cy="169.7" r="3.3" fill="#000"/>
<circle cx="996.1" cy="229.8" r="3.3" fill="#000"/>
<circle cx="998.6" cy="198.0" r="3.3" fill="#000"/>
<circle cx="954.6" cy="222.1" r="3.3" fill="#000"/>
<circle cx="1000.6" cy="170.1" r="3.3" fill="#000"/>
<circle cx="949.2" cy="235.7" r="3.3" fill="#BEBEBE"/>
<circle cx="957.6" cy="162.5" r="3.3" fill="#BEBEBE"/>
<circle cx="975.3" cy="227.6" r="3.3" fill="#000"/>
<circle cx="965.3" cy="152.8" r="3.3" fill="#BEBEBE"/>
<circle cx="998.8" cy="161.1" r="3.3" fill="#000"/>
<circle cx="946.1" cy="150.2" r="3.3" fill="#000"/>
<circle cx="982.3" cy="229.8" r="3.3" fill="#000"/>
<circle cx="996.7" cy="196.3" r="3.3" fill="#000"/>
<circle cx="983.5" cy="166.4" r="3.3" fill="#BEBEBE"/>
<circle cx="990.1" cy="167.3" r="3.3" fill="#000"/>
<circle cx="992.5" cy="189.4" r="3.3" fill="#BEBEBE"/>
<circle cx="951.1" cy="214.3" r="3.3" fill="#000"/>
<circle cx="986.7" cy="181.9" r="3.3" fill="#BEBEBE"/>
<circle cx="979.8" cy="209.5" r="3.3" fill="#000"/>
<circle cx="967.1" cy="205.6" r="3.3" fill="#BEBEBE"/>
<circle cx="952.4" cy="216.1" r="3.3" fill="#000"/>
<circle cx="946.7" cy="215.6" r="3.3" fill="#000"/>
<circle cx="992.3" cy="171.4" r="3.3" fill="#000"/>
<circle cx="991.3" cy="158.2" r="3.3" fill="#000"/>
<circle cx="980.3" cy="215.9" r="3.3" fill="#000"/>
<circle cx="993.8" cy="232.6" r="3.3" fill="#000"/>
<circle cx="953.7" cy="186.4" r="3.3" fill="#BEBEBE"/>
<circle cx="950.1" cy="230.8" r="3.3" fill="#000"/>
<circle cx="999.4" cy="229.4" r="3.3" fill="#000"/>
<circle cx="960.2" cy="225.6" r="3.3" fill="#000"/>
<circle cx="997.3" cy="213.8" r="3.3" fill="#000"/>
<circle cx="840.5" cy="174.0" r="3.3" fill="#BEBEBE"/>
<circle cx="843.6" cy="184.3" r="3.3" fill="#BEBEBE"/>
<circle cx="844.9" cy="173.4" r="3.3" fill="#BEBEBE"/>
<circle cx="844.2" cy="217.3" r="3.3" fill="#BEBEBE"/>
<circle cx="841.6" cy="230.6" r="3.3" fill="#BEBEBE"/>
<circle cx="846.2" cy="167.2" r="3.3" fill="#BEBEBE"/>
<circle cx="843.4" cy="173.3" r="3.3" fill="#BEBEBE"/>
<circle cx="843.4" cy="196.4" r="3.3" fill="#BEBEBE"/>
<circle cx="848.9" cy="118.7" r="3.3" fill="#000"/>
<circle cx="850.3" cy="129.2" r="3.3" fill="#000"/>
<circle cx="841.1" cy="139.0" r="3.3" fill="#000"/>
<circle cx="848.9" cy="143.6" r="3.3" fill="#000"/>
<circle cx="873.2" cy="124.0" r="3.3" fill="#000"/>
<circle cx="883.6" cy="123.3" r="3.3" fill="#000"/>
<circle cx="890.2" cy="122.7" r="3.3" fill="#000"/>
<circle cx="897.4" cy="126.6" r="3.3" fill="#000"/>
<circle cx="902.0" cy="122.7" r="3.3" fill="#000"/>
<circle cx="875.1" cy="134.5" r="3.3" fill="#000"/>
<circle cx="879.0" cy="132.5" r="3.3" fill="#000"/>
<circle cx="883.0" cy="131.8" r="3.3" fill="#000"/>
<circle cx="878.4" cy="139.0" r="3.3" fill="#000"/>
<circle cx="866.6" cy="137.1" r="3.3" fill="#000"/>
<circle cx="864.0" cy="141.0" r="3.3" fill="#000"/>
<circle cx="862.0" cy="144.3" r="3.3" fill="#000"/>
<circle cx="873.8" cy="143.0" r="3.3" fill="#000"/>
<circle cx="879.0" cy="144.3" r="3.3" fill="#000"/>
<circle cx="880.4" cy="146.9" r="3.3" fill="#000"/>
<circle cx="859.4" cy="146.9" r="3.3" fill="#000"/>
<circle cx="867.3" cy="149.5" r="3.3" fill="#000"/>
<circle cx="871.2" cy="152.1" r="3.3" fill="#000"/>
<circle cx="875.1" cy="154.7" r="3.3" fill="#000"/>
<circle cx="847.0" cy="152.1" r="3.3" fill="#000"/>
<circle cx="854.2" cy="154.7" r="3.3" fill="#000"/>
<circle cx="852.9" cy="158.7" r="3.3" fill="#000"/>
<circle cx="860.7" cy="154.7" r="3.3" fill="#000"/>
<circle cx="864.6" cy="157.4" r="3.3" fill="#000"/>
<circle cx="885.6" cy="148.2" r="3.3" fill="#000"/>
<circle cx="890.8" cy="150.2" r="3.3" fill="#000"/>
<circle cx="886.9" cy="157.4" r="3.3" fill="#000"/>
<circle cx="896.1" cy="146.9" r="3.3" fill="#000"/>
<circle cx="900.6" cy="143.0" r="3.3" fill="#000"/>
<circle cx="898.7" cy="149.5" r="3.3" fill="#000"/>
<circle cx="901.3" cy="154.7" r="3.3" fill="#000"/>
<circle cx="906.5" cy="149.5" r="3.3" fill="#000"/>
<circle cx="881.7" cy="157.4" r="3.3" fill="#000"/>
<circle cx="917.4" cy="127.9" r="3.3" fill="#000"/>
<circle cx="922.7" cy="124.6" r="3.3" fill="#000"/>
<circle cx="925.9" cy="130.5" r="3.3" fill="#000"/>
<circle cx="931.2" cy="127.9" r="3.3" fill="#000"/>
<circle cx="912.9" cy="135.1" r="3.3" fill="#000"/>
<circle cx="914.2" cy="140.3" r="3.3" fill="#000"/>
<circle cx="920.1" cy="142.3" r="3.3" fill="#000"/>
<circle cx="918.1" cy="146.9" r="3.3" fill="#000"/>
<circle cx="918.1" cy="152.1" r="3.3" fill="#000"/>
<circle cx="924.6" cy="146.9" r="3.3" fill="#000"/>
<circle cx="929.2" cy="150.2" r="3.3" fill="#000"/>
<circle cx="907.6" cy="149.5" r="3.3" fill="#000"/>
<circle cx="914.2" cy="155.4" r="3.3" fill="#000"/>
<circle cx="945.6" cy="148.2" r="3.3" fill="#000"/>
<circle cx="944.3" cy="151.5" r="3.3" fill="#000"/>
<circle cx="956.7" cy="141.6" r="3.3" fill="#000"/>
<circle cx="957.4" cy="155.4" r="3.3" fill="#000"/>
<circle cx="964.6" cy="154.1" r="3.3" fill="#000"/>
<circle cx="933.8" cy="158.7" r="3.3" fill="#000"/>
<circle cx="999.0" cy="141.6" r="3.3" fill="#000"/>
<circle cx="999.6" cy="147.5" r="3.3" fill="#000"/>
<circle cx="1024.5" cy="144.3" r="3.3" fill="#000"/>
<circle cx="1036.9" cy="141.6" r="3.3" fill="#000"/>
<circle cx="1017.3" cy="152.1" r="3.3" fill="#000"/>
<circle cx="1023.2" cy="154.1" r="3.3" fill="#000"/>
<circle cx="987.2" cy="158.7" r="3.3" fill="#000"/>
<circle cx="1071.4" cy="159.3" r="3.3" fill="#000"/>
<circle cx="1080.5" cy="151.4" r="3.3" fill="#000"/>
<circle cx="1085.8" cy="151.4" r="3.3" fill="#000"/>
<circle cx="1087.1" cy="164.5" r="3.3" fill="#000"/>
<circle cx="1093.0" cy="163.2" r="3.3" fill="#000"/>
<circle cx="1129.6" cy="162.5" r="3.3" fill="#000"/>
<circle cx="1132.0" cy="162.5" r="3.3" fill="#000"/>
<circle cx="1129.0" cy="171.7" r="3.3" fill="#000"/>
<circle cx="1140.7" cy="163.8" r="3.3" fill="#000"/>
<circle cx="1145.3" cy="169.7" r="3.3" fill="#000"/>
<circle cx="837.2" cy="166.8" r="3.3" fill="#000"/>
<circle cx="908.3" cy="161.5" r="3.3" fill="#000"/>
<circle cx="912.2" cy="164.2" r="3.3" fill="#000"/>
<circle cx="914.8" cy="156.3" r="3.3" fill="#000"/>
<circle cx="923.3" cy="162.9" r="3.3" fill="#000"/>
<circle cx="925.9" cy="166.8" r="3.3" fill="#000"/>
<circle cx="930.5" cy="165.5" r="3.3" fill="#000"/>
<circle cx="933.8" cy="159.6" r="3.3" fill="#000"/>
<circle cx="935.1" cy="168.1" r="3.3" fill="#000"/>
<circle cx="907.0" cy="173.3" r="3.3" fill="#000"/>
<circle cx="914.2" cy="173.3" r="3.3" fill="#000"/>
<circle cx="908.9" cy="179.9" r="3.3" fill="#000"/>
<circle cx="916.8" cy="179.9" r="3.3" fill="#000"/>
<circle cx="911.5" cy="185.1" r="3.3" fill="#000"/>
<circle cx="915.5" cy="190.3" r="3.3" fill="#000"/>
<circle cx="920.7" cy="186.4" r="3.3" fill="#000"/>
<circle cx="907.0" cy="194.3" r="3.3" fill="#000"/>
<circle cx="907.6" cy="203.4" r="3.3" fill="#000"/>
<circle cx="914.2" cy="204.7" r="3.3" fill="#000"/>
<circle cx="920.7" cy="194.3" r="3.3" fill="#000"/>
<circle cx="922.0" cy="200.8" r="3.3" fill="#000"/>
<circle cx="924.6" cy="207.4" r="3.3" fill="#000"/>
<circle cx="931.2" cy="196.9" r="3.3" fill="#000"/>
<circle cx="935.1" cy="204.7" r="3.3" fill="#000"/>
<circle cx="932.5" cy="177.3" r="3.3" fill="#000"/>
<circle cx="931.2" cy="181.2" r="3.3" fill="#000"/>
<circle cx="936.4" cy="178.6" r="3.3" fill="#000"/>
<circle cx="943.6" cy="173.3" r="3.3" fill="#000"/>
<circle cx="948.2" cy="175.9" r="3.3" fill="#000"/>
<circle cx="944.3" cy="179.9" r="3.3" fill="#000"/>
<circle cx="950.8" cy="179.2" r="3.3" fill="#000"/>
<circle cx="957.4" cy="184.5" r="3.3" fill="#000"/>
<circle cx="961.3" cy="181.8" r="3.3" fill="#000"/>
<circle cx="935.1" cy="187.7" r="3.3" fill="#000"/>
<circle cx="944.3" cy="189.0" r="3.3" fill="#000"/>
<circle cx="953.4" cy="190.3" r="3.3" fill="#000"/>
<circle cx="945.6" cy="198.2" r="3.3" fill="#000"/>
<circle cx="949.5" cy="200.8" r="3.3" fill="#000"/>
<circle cx="944.3" cy="203.4" r="3.3" fill="#000"/>
<circle cx="960.0" cy="193.0" r="3.3" fill="#000"/>
<circle cx="957.4" cy="199.5" r="3.3" fill="#000"/>
<circle cx="965.2" cy="202.1" r="3.3" fill="#000"/>
<circle cx="960.0" cy="206.0" r="3.3" fill="#000"/>
<circle cx="970.4" cy="198.2" r="3.3" fill="#000"/>
<circle cx="973.1" cy="193.0" r="3.3" fill="#000"/>
<circle cx="978.3" cy="181.2" r="3.3" fill="#000"/>
<circle cx="980.3" cy="186.4" r="3.3" fill="#000"/>
<circle cx="982.2" cy="198.2" r="3.3" fill="#000"/>
<circle cx="978.3" cy="204.7" r="3.3" fill="#000"/>
<circle cx="967.8" cy="173.3" r="3.3" fill="#000"/>
<circle cx="966.5" cy="165.5" r="3.3" fill="#000"/>
<circle cx="965.2" cy="177.3" r="3.3" fill="#000"/>
<circle cx="970.4" cy="169.4" r="3.3" fill="#000"/>
<circle cx="953.4" cy="164.2" r="3.3" fill="#000"/>
<circle cx="958.7" cy="156.3" r="3.3" fill="#000"/>
<circle cx="962.6" cy="166.8" r="3.3" fill="#000"/>
<circle cx="980.3" cy="169.4" r="3.3" fill="#000"/>
<circle cx="962.6" cy="156.3" r="3.3" fill="#000"/>
<circle cx="987.2" cy="160.9" r="3.3" fill="#000"/>
<circle cx="998.3" cy="162.2" r="3.3" fill="#000"/>
<circle cx="981.3" cy="169.4" r="3.3" fill="#000"/>
<circle cx="993.1" cy="169.4" r="3.3" fill="#000"/>
<circle cx="1021.9" cy="155.7" r="3.3" fill="#000"/>
<circle cx="1045.4" cy="169.4" r="3.3" fill="#000"/>
<circle cx="1052.0" cy="172.0" r="3.3" fill="#000"/>
<circle cx="987.9" cy="179.9" r="3.3" fill="#000"/>
<circle cx="982.6" cy="183.1" r="3.3" fill="#000"/>
<circle cx="993.1" cy="182.5" r="3.3" fill="#000"/>
<circle cx="1000.9" cy="182.5" r="3.3" fill="#000"/>
<circle cx="1016.6" cy="177.9" r="3.3" fill="#000"/>
<circle cx="1023.2" cy="175.9" r="3.3" fill="#000"/>
<circle cx="1015.3" cy="182.5" r="3.3" fill="#000"/>
<circle cx="1011.4" cy="182.5" r="3.3" fill="#000"/>
<circle cx="1014.0" cy="186.4" r="3.3" fill="#000"/>
<circle cx="1015.3" cy="193.0" r="3.3" fill="#000"/>
<circle cx="1035.0" cy="181.2" r="3.3" fill="#000"/>
<circle cx="1037.6" cy="178.6" r="3.3" fill="#000"/>
<circle cx="1033.7" cy="183.8" r="3.3" fill="#000"/>
<circle cx="1027.1" cy="190.3" r="3.3" fill="#000"/>
<circle cx="1048.1" cy="186.4" r="3.3" fill="#000"/>
<circle cx="1055.9" cy="185.1" r="3.3" fill="#000"/>
<circle cx="1058.5" cy="190.3" r="3.3" fill="#000"/>
<circle cx="1038.9" cy="194.3" r="3.3" fill="#000"/>
<circle cx="1041.5" cy="195.6" r="3.3" fill="#000"/>
<circle cx="985.2" cy="191.6" r="3.3" fill="#000"/>
<circle cx="995.7" cy="187.7" r="3.3" fill="#000"/>
<circle cx="1003.6" cy="189.0" r="3.3" fill="#000"/>
<circle cx="1004.9" cy="194.3" r="3.3" fill="#000"/>
<circle cx="982.6" cy="198.2" r="3.3" fill="#000"/>
<circle cx="990.5" cy="194.3" r="3.3" fill="#000"/>
<circle cx="995.7" cy="200.8" r="3.3" fill="#000"/>
<circle cx="999.6" cy="202.1" r="3.3" fill="#000"/>
<circle cx="1006.2" cy="203.4" r="3.3" fill="#000"/>
<circle cx="1028.4" cy="205.4" r="3.3" fill="#000"/>
<circle cx="1050.7" cy="196.9" r="3.3" fill="#000"/>
<circle cx="1046.8" cy="202.1" r="3.3" fill="#000"/>
<circle cx="1053.3" cy="203.4" r="3.3" fill="#000"/>
<circle cx="1056.3" cy="184.4" r="3.3" fill="#000"/>
<circle cx="1057.6" cy="192.3" r="3.3" fill="#000"/>
<circle cx="1060.9" cy="196.2" r="3.3" fill="#000"/>
<circle cx="1065.5" cy="194.9" r="3.3" fill="#000"/>
<circle cx="1072.0" cy="196.2" r="3.3" fill="#000"/>
<circle cx="1074.6" cy="186.4" r="3.3" fill="#000"/>
<circle cx="1067.4" cy="185.7" r="3.3" fill="#000"/>
<circle cx="1094.3" cy="181.1" r="3.3" fill="#000"/>
<circle cx="1094.3" cy="206.0" r="3.3" fill="#000"/>
<circle cx="1094.3" cy="208.0" r="3.3" fill="#000"/>
<circle cx="1120.4" cy="178.5" r="3.3" fill="#000"/>
<circle cx="1123.1" cy="187.0" r="3.3" fill="#000"/>
<circle cx="1128.3" cy="172.0" r="3.3" fill="#000"/>
<circle cx="1145.3" cy="170.7" r="3.3" fill="#000"/>
<circle cx="1132.9" cy="192.3" r="3.3" fill="#000"/>
<circle cx="1138.1" cy="190.3" r="3.3" fill="#000"/>
<circle cx="1149.2" cy="182.4" r="3.3" fill="#000"/>
<circle cx="1163.6" cy="177.2" r="3.3" fill="#000"/>
<circle cx="1137.5" cy="202.7" r="3.3" fill="#000"/>
<circle cx="1169.5" cy="206.6" r="3.3" fill="#000"/>
<circle cx="1151.9" cy="212.5" r="3.3" fill="#000"/>
<circle cx="1164.9" cy="216.5" r="3.3" fill="#000"/>
<circle cx="1131.6" cy="213.2" r="3.3" fill="#000"/>
<circle cx="1126.3" cy="218.4" r="3.3" fill="#000"/>
<circle cx="1059.6" cy="215.2" r="3.3" fill="#000"/>
<circle cx="1083.1" cy="217.8" r="3.3" fill="#000"/>
<circle cx="1098.2" cy="219.7" r="3.3" fill="#000"/>
<circle cx="1081.2" cy="201.4" r="3.3" fill="#000"/>
<circle cx="1056.3" cy="204.0" r="3.3" fill="#000"/>
<circle cx="1149.2" cy="219.7" r="3.3" fill="#000"/>
<circle cx="1138.8" cy="220.4" r="3.3" fill="#000"/>
<circle cx="1069.4" cy="223.0" r="3.3" fill="#000"/>
<circle cx="1116.5" cy="223.7" r="3.3" fill="#000"/>
<circle cx="837.8" cy="235.1" r="3.3" fill="#000"/>
<circle cx="852.9" cy="228.6" r="3.3" fill="#000"/>
<circle cx="854.2" cy="232.5" r="3.3" fill="#000"/>
<circle cx="860.7" cy="227.3" r="3.3" fill="#000"/>
<circle cx="862.0" cy="235.1" r="3.3" fill="#000"/>
<circle cx="860.7" cy="239.0" r="3.3" fill="#000"/>
<circle cx="867.3" cy="231.2" r="3.3" fill="#000"/>
<circle cx="869.9" cy="227.3" r="3.3" fill="#000"/>
<circle cx="880.4" cy="224.6" r="3.3" fill="#000"/>
<circle cx="880.4" cy="231.2" r="3.3" fill="#000"/>
<circle cx="880.4" cy="237.7" r="3.3" fill="#000"/>
<circle cx="872.5" cy="243.0" r="3.3" fill="#000"/>
<circle cx="883.0" cy="241.6" r="3.3" fill="#000"/>
<circle cx="893.4" cy="231.2" r="3.3" fill="#000"/>
<circle cx="896.1" cy="236.4" r="3.3" fill="#000"/>
<circle cx="900.0" cy="227.3" r="3.3" fill="#000"/>
<circle cx="901.3" cy="235.1" r="3.3" fill="#000"/>
<circle cx="893.4" cy="240.3" r="3.3" fill="#000"/>
<circle cx="889.5" cy="246.9" r="3.3" fill="#000"/>
<circle cx="885.6" cy="248.2" r="3.3" fill="#000"/>
<circle cx="848.3" cy="241.6" r="3.3" fill="#000"/>
<circle cx="852.9" cy="245.6" r="3.3" fill="#000"/>
<circle cx="850.3" cy="250.8" r="3.3" fill="#000"/>
<circle cx="856.1" cy="251.5" r="3.3" fill="#000"/>
<circle cx="860.7" cy="245.6" r="3.3" fill="#000"/>
<circle cx="865.3" cy="255.4" r="3.3" fill="#000"/>
<circle cx="871.8" cy="256.7" r="3.3" fill="#000"/>
<circle cx="879.0" cy="250.2" r="3.3" fill="#000"/>
<circle cx="878.4" cy="254.1" r="3.3" fill="#000"/>
<circle cx="884.3" cy="254.7" r="3.3" fill="#000"/>
<circle cx="906.5" cy="249.5" r="3.3" fill="#000"/>
<circle cx="906.5" cy="222.0" r="3.3" fill="#000"/>
<circle cx="928.6" cy="225.9" r="3.3" fill="#000"/>
<circle cx="932.5" cy="223.3" r="3.3" fill="#000"/>
<circle cx="936.4" cy="220.7" r="3.3" fill="#000"/>
<circle cx="918.1" cy="224.6" r="3.3" fill="#000"/>
<circle cx="912.9" cy="228.6" r="3.3" fill="#000"/>
<circle cx="907.6" cy="231.2" r="3.3" fill="#000"/>
<circle cx="911.5" cy="233.8" r="3.3" fill="#000"/>
<circle cx="922.0" cy="235.1" r="3.3" fill="#000"/>
<circle cx="924.6" cy="232.5" r="3.3" fill="#000"/>
<circle cx="932.5" cy="231.2" r="3.3" fill="#000"/>
<circle cx="918.1" cy="240.3" r="3.3" fill="#000"/>
<circle cx="910.2" cy="244.3" r="3.3" fill="#000"/>
<circle cx="919.4" cy="248.2" r="3.3" fill="#000"/>
<circle cx="925.9" cy="248.2" r="3.3" fill="#000"/>
<circle cx="924.6" cy="254.7" r="3.3" fill="#000"/>
<circle cx="911.5" cy="253.4" r="3.3" fill="#000"/>
<circle cx="933.1" cy="243.0" r="3.3" fill="#000"/>
<circle cx="935.1" cy="248.8" r="3.3" fill="#000"/>
<circle cx="940.3" cy="237.7" r="3.3" fill="#000"/>
<circle cx="943.0" cy="244.3" r="3.3" fill="#000"/>
<circle cx="932.5" cy="257.4" r="3.3" fill="#000"/>
<circle cx="946.9" cy="254.7" r="3.3" fill="#000"/>
<circle cx="952.1" cy="246.9" r="3.3" fill="#000"/>
<circle cx="960.0" cy="245.6" r="3.3" fill="#000"/>
<circle cx="965.2" cy="250.8" r="3.3" fill="#000"/>
<circle cx="948.2" cy="219.4" r="3.3" fill="#000"/>
<circle cx="954.7" cy="214.2" r="3.3" fill="#000"/>
<circle cx="957.4" cy="219.4" r="3.3" fill="#000"/>
<circle cx="952.8" cy="228.6" r="3.3" fill="#000"/>
<circle cx="958.7" cy="224.6" r="3.3" fill="#000"/>
<circle cx="958.7" cy="229.9" r="3.3" fill="#000"/>
<circle cx="960.0" cy="236.4" r="3.3" fill="#000"/>
<circle cx="965.2" cy="210.2" r="3.3" fill="#000"/>
<circle cx="970.4" cy="207.6" r="3.3" fill="#000"/>
<circle cx="970.4" cy="223.3" r="3.3" fill="#000"/>
<circle cx="973.1" cy="225.9" r="3.3" fill="#000"/>
<circle cx="975.7" cy="220.7" r="3.3" fill="#000"/>
<circle cx="971.8" cy="239.0" r="3.3" fill="#000"/>
<circle cx="971.8" cy="246.9" r="3.3" fill="#000"/>
<circle cx="978.3" cy="211.5" r="3.3" fill="#000"/>
<circle cx="983.5" cy="210.2" r="3.3" fill="#000"/>
<circle cx="981.6" cy="235.1" r="3.3" fill="#000"/>
<circle cx="983.5" cy="239.0" r="3.3" fill="#000"/>
<circle cx="975.7" cy="250.8" r="3.3" fill="#000"/>
<circle cx="979.6" cy="251.5" r="3.3" fill="#000"/>
<circle cx="981.3" cy="210.2" r="3.3" fill="#000"/>
<circle cx="989.2" cy="216.8" r="3.3" fill="#000"/>
<circle cx="985.2" cy="222.0" r="3.3" fill="#000"/>
<circle cx="982.6" cy="225.9" r="3.3" fill="#000"/>
<circle cx="989.2" cy="224.6" r="3.3" fill="#000"/>
<circle cx="995.7" cy="219.4" r="3.3" fill="#000"/>
<circle cx="999.6" cy="214.2" r="3.3" fill="#000"/>
<circle cx="1006.2" cy="211.5" r="3.3" fill="#000"/>
<circle cx="1002.3" cy="218.1" r="3.3" fill="#000"/>
<circle cx="1015.3" cy="212.9" r="3.3" fill="#000"/>
<circle cx="1020.6" cy="212.9" r="3.3" fill="#000"/>
<circle cx="1016.6" cy="219.4" r="3.3" fill="#000"/>
<circle cx="1023.2" cy="216.8" r="3.3" fill="#000"/>
<circle cx="1028.4" cy="206.3" r="3.3" fill="#000"/>
<circle cx="1037.6" cy="210.2" r="3.3" fill="#000"/>
<circle cx="1048.1" cy="210.2" r="3.3" fill="#000"/>
<circle cx="1049.4" cy="215.5" r="3.3" fill="#000"/>
<circle cx="1057.2" cy="207.6" r="3.3" fill="#000"/>
<circle cx="1058.5" cy="215.5" r="3.3" fill="#000"/>
<circle cx="1010.1" cy="224.6" r="3.3" fill="#000"/>
<circle cx="1004.9" cy="228.6" r="3.3" fill="#000"/>
<circle cx="1010.1" cy="231.2" r="3.3" fill="#000"/>
<circle cx="1003.6" cy="236.4" r="3.3" fill="#000"/>
<circle cx="1008.8" cy="237.7" r="3.3" fill="#000"/>
<circle cx="1016.6" cy="236.4" r="3.3" fill="#000"/>
<circle cx="1024.5" cy="228.6" r="3.3" fill="#000"/>
<circle cx="1023.8" cy="238.4" r="3.3" fill="#000"/>
<circle cx="982.6" cy="236.4" r="3.3" fill="#000"/>
<circle cx="987.9" cy="238.4" r="3.3" fill="#000"/>
<circle cx="981.3" cy="243.0" r="3.3" fill="#000"/>
<circle cx="998.3" cy="244.3" r="3.3" fill="#000"/>
<circle cx="1006.2" cy="244.3" r="3.3" fill="#000"/>
<circle cx="991.8" cy="250.2" r="3.3" fill="#000"/>
<circle cx="1000.9" cy="250.8" r="3.3" fill="#000"/>
<circle cx="1002.3" cy="254.7" r="3.3" fill="#000"/>
<circle cx="1014.0" cy="257.4" r="3.3" fill="#000"/>
<circle cx="1019.3" cy="256.0" r="3.3" fill="#000"/>
<circle cx="1029.7" cy="250.8" r="3.3" fill="#000"/>
<circle cx="1035.6" cy="246.9" r="3.3" fill="#000"/>
<circle cx="1045.4" cy="232.5" r="3.3" fill="#000"/>
<circle cx="1052.0" cy="228.6" r="3.3" fill="#000"/>
<circle cx="1050.7" cy="233.8" r="3.3" fill="#000"/>
<circle cx="1046.8" cy="243.0" r="3.3" fill="#000"/>
<circle cx="1052.0" cy="246.9" r="3.3" fill="#000"/>
<circle cx="1046.8" cy="254.7" r="3.3" fill="#000"/>
<circle cx="1048.1" cy="258.7" r="3.3" fill="#000"/>
<circle cx="1025.8" cy="258.7" r="3.3" fill="#000"/>
<circle cx="1068.7" cy="224.6" r="3.3" fill="#000"/>
<circle cx="1068.1" cy="233.7" r="3.3" fill="#000"/>
<circle cx="1083.8" cy="229.2" r="3.3" fill="#000"/>
<circle cx="1084.5" cy="231.0" r="3.3" fill="#000"/>
<circle cx="1092.3" cy="229.2" r="3.3" fill="#000"/>
<circle cx="1099.5" cy="227.9" r="3.3" fill="#000"/>
<circle cx="1098.2" cy="220.7" r="3.3" fill="#000"/>
<circle cx="1116.5" cy="224.6" r="3.3" fill="#000"/>
<circle cx="1126.3" cy="229.2" r="3.3" fill="#000"/>
<circle cx="1127.0" cy="221.3" r="3.3" fill="#000"/>
<circle cx="1150.5" cy="223.9" r="3.3" fill="#000"/>
<circle cx="1158.4" cy="224.6" r="3.3" fill="#000"/>
<circle cx="1165.6" cy="226.5" r="3.3" fill="#000"/>
<circle cx="1071.4" cy="240.9" r="3.3" fill="#000"/>
<circle cx="1074.6" cy="240.3" r="3.3" fill="#000"/>
<circle cx="1082.5" cy="242.9" r="3.3" fill="#000"/>
<circle cx="1093.6" cy="246.8" r="3.3" fill="#000"/>
<circle cx="1098.8" cy="246.8" r="3.3" fill="#000"/>
<circle cx="1104.1" cy="244.9" r="3.3" fill="#000"/>
<circle cx="1127.6" cy="238.3" r="3.3" fill="#000"/>
<circle cx="1127.0" cy="243.6" r="3.3" fill="#000"/>
<circle cx="1139.4" cy="238.3" r="3.3" fill="#000"/>
<circle cx="1068.1" cy="251.4" r="3.3" fill="#000"/>
<circle cx="1068.1" cy="256.6" r="3.3" fill="#000"/>
<circle cx="1087.1" cy="251.4" r="3.3" fill="#000"/>
<circle cx="1062.2" cy="260.6" r="3.3" fill="#000"/>
<circle cx="1060.2" cy="267.1" r="3.3" fill="#000"/>
<circle cx="1064.2" cy="271.0" r="3.3" fill="#000"/>
<circle cx="1081.2" cy="267.8" r="3.3" fill="#000"/>
<circle cx="1092.3" cy="260.6" r="3.3" fill="#000"/>
<circle cx="1095.6" cy="267.8" r="3.3" fill="#000"/>
<circle cx="1117.8" cy="269.7" r="3.3" fill="#000"/>
<circle cx="1149.2" cy="271.7" r="3.3" fill="#000"/>
<circle cx="1164.3" cy="260.6" r="3.3" fill="#000"/>
<circle cx="1167.6" cy="258.6" r="3.3" fill="#000"/>
<circle cx="1166.9" cy="273.7" r="3.3" fill="#000"/>
<circle cx="1055.0" cy="247.5" r="3.3" fill="#000"/>
<circle cx="848.3" cy="272.7" r="3.3" fill="#000"/>
<circle cx="852.9" cy="275.3" r="3.3" fill="#000"/>
<circle cx="856.1" cy="270.1" r="3.3" fill="#000"/>
<circle cx="854.2" cy="272.0" r="3.3" fill="#000"/>
<circle cx="864.6" cy="257.0" r="3.3" fill="#000"/>
<circle cx="871.8" cy="257.6" r="3.3" fill="#000"/>
<circle cx="878.4" cy="255.0" r="3.3" fill="#000"/>
<circle cx="883.0" cy="255.0" r="3.3" fill="#000"/>
<circle cx="877.7" cy="266.1" r="3.3" fill="#000"/>
<circle cx="913.5" cy="262.9" r="3.3" fill="#000"/>
<circle cx="912.9" cy="266.1" r="3.3" fill="#000"/>
<circle cx="917.4" cy="261.5" r="3.3" fill="#000"/>
<circle cx="922.0" cy="255.7" r="3.3" fill="#000"/>
<circle cx="926.6" cy="262.2" r="3.3" fill="#000"/>
<circle cx="929.9" cy="258.9" r="3.3" fill="#000"/>
<circle cx="932.5" cy="263.5" r="3.3" fill="#000"/>
<circle cx="937.7" cy="262.2" r="3.3" fill="#000"/>
<circle cx="946.9" cy="256.3" r="3.3" fill="#000"/>
<circle cx="953.4" cy="262.9" r="3.3" fill="#000"/>
<circle cx="944.3" cy="266.1" r="3.3" fill="#000"/>
<circle cx="946.9" cy="269.4" r="3.3" fill="#000"/>
<circle cx="948.2" cy="270.7" r="3.3" fill="#000"/>
<circle cx="958.7" cy="271.4" r="3.3" fill="#000"/>
<circle cx="971.1" cy="270.1" r="3.3" fill="#000"/>
<circle cx="948.2" cy="279.2" r="3.3" fill="#000"/>
<circle cx="918.7" cy="291.0" r="3.3" fill="#000"/>
<circle cx="983.5" cy="290.3" r="3.3" fill="#000"/>
<circle cx="1002.3" cy="255.0" r="3.3" fill="#000"/>
<circle cx="1014.0" cy="258.3" r="3.3" fill="#000"/>
<circle cx="1018.0" cy="257.0" r="3.3" fill="#000"/>
<circle cx="1026.5" cy="259.6" r="3.3" fill="#000"/>
<circle cx="1046.8" cy="257.0" r="3.3" fill="#000"/>
<circle cx="1048.1" cy="260.2" r="3.3" fill="#000"/>
<circle cx="1059.2" cy="267.4" r="3.3" fill="#000"/>
<circle cx="1013.4" cy="265.5" r="3.3" fill="#000"/>
<circle cx="1015.3" cy="270.1" r="3.3" fill="#000"/>
<circle cx="999.6" cy="270.1" r="3.3" fill="#000"/>
<circle cx="991.1" cy="283.1" r="3.3" fill="#000"/>
<circle cx="1018.0" cy="283.1" r="3.3" fill="#000"/>
<circle cx="1016.0" cy="305.4" r="3.3" fill="#000"/>
<circle cx="1060.9" cy="267.0" r="3.3" fill="#000"/>
<circle cx="1063.5" cy="270.9" r="3.3" fill="#000"/>
<circle cx="1075.3" cy="281.4" r="3.3" fill="#000"/>
<circle cx="1081.8" cy="267.6" r="3.3" fill="#000"/>
<circle cx="1095.6" cy="267.6" r="3.3" fill="#000"/>
<circle cx="1117.8" cy="270.2" r="3.3" fill="#000"/>
<circle cx="1149.2" cy="271.5" r="3.3" fill="#000"/>
<circle cx="1167.6" cy="274.8" r="3.3" fill="#000"/>
<circle cx="1161.0" cy="279.4" r="3.3" fill="#000"/>
<circle cx="1167.6" cy="284.6" r="3.3" fill="#000"/>
<circle cx="855.5" cy="134.5" r="3.3" fill="#BEBEBE"/>
<circle cx="852.9" cy="139.0" r="3.3" fill="#BEBEBE"/>
<circle cx="873.2" cy="118.1" r="3.3" fill="#BEBEBE"/>
<circle cx="876.4" cy="121.4" r="3.3" fill="#BEBEBE"/>
<circle cx="848.9" cy="149.5" r="3.3" fill="#BEBEBE"/>
<circle cx="906.5" cy="140.3" r="3.3" fill="#BEBEBE"/>
<circle cx="954.1" cy="116.5" r="3.3" fill="#BEBEBE"/>
<circle cx="965.2" cy="124.6" r="3.3" fill="#BEBEBE"/>
<circle cx="975.7" cy="138.4" r="3.3" fill="#BEBEBE"/>
<circle cx="908.3" cy="139.7" r="3.3" fill="#BEBEBE"/>
<circle cx="931.2" cy="146.9" r="3.3" fill="#BEBEBE"/>
<circle cx="968.5" cy="148.8" r="3.3" fill="#BEBEBE"/>
<circle cx="974.4" cy="154.7" r="3.3" fill="#BEBEBE"/>
<circle cx="1004.2" cy="148.2" r="3.3" fill="#BEBEBE"/>
<circle cx="1029.1" cy="142.3" r="3.3" fill="#BEBEBE"/>
<circle cx="1021.9" cy="145.6" r="3.3" fill="#BEBEBE"/>
<circle cx="1018.6" cy="147.5" r="3.3" fill="#BEBEBE"/>
<circle cx="1012.1" cy="155.4" r="3.3" fill="#BEBEBE"/>
<circle cx="1029.1" cy="157.4" r="3.3" fill="#BEBEBE"/>
<circle cx="1036.3" cy="154.7" r="3.3" fill="#BEBEBE"/>
<circle cx="1040.9" cy="152.1" r="3.3" fill="#BEBEBE"/>
<circle cx="1051.3" cy="156.7" r="3.3" fill="#BEBEBE"/>
<circle cx="1058.5" cy="150.2" r="3.3" fill="#BEBEBE"/>
<circle cx="1060.9" cy="158.6" r="3.3" fill="#BEBEBE"/>
<circle cx="1070.1" cy="169.1" r="3.3" fill="#BEBEBE"/>
<circle cx="1075.9" cy="160.6" r="3.3" fill="#BEBEBE"/>
<circle cx="1079.9" cy="162.5" r="3.3" fill="#BEBEBE"/>
<circle cx="1083.1" cy="155.3" r="3.3" fill="#BEBEBE"/>
<circle cx="1089.0" cy="156.0" r="3.3" fill="#BEBEBE"/>
<circle cx="1087.1" cy="143.6" r="3.3" fill="#BEBEBE"/>
<circle cx="1098.2" cy="165.2" r="3.3" fill="#BEBEBE"/>
<circle cx="1099.5" cy="170.4" r="3.3" fill="#BEBEBE"/>
<circle cx="1087.1" cy="173.0" r="3.3" fill="#BEBEBE"/>
<circle cx="1100.2" cy="143.6" r="3.3" fill="#BEBEBE"/>
<circle cx="1108.0" cy="143.6" r="3.3" fill="#BEBEBE"/>
<circle cx="1098.8" cy="154.7" r="3.3" fill="#BEBEBE"/>
<circle cx="1106.7" cy="154.7" r="3.3" fill="#BEBEBE"/>
<circle cx="1104.7" cy="161.9" r="3.3" fill="#BEBEBE"/>
<circle cx="1106.7" cy="167.8" r="3.3" fill="#BEBEBE"/>
<circle cx="1119.1" cy="135.7" r="3.3" fill="#BEBEBE"/>
<circle cx="1116.5" cy="152.7" r="3.3" fill="#BEBEBE"/>
<circle cx="1120.4" cy="166.5" r="3.3" fill="#BEBEBE"/>
<circle cx="1123.1" cy="166.5" r="3.3" fill="#BEBEBE"/>
<circle cx="1142.7" cy="160.6" r="3.3" fill="#BEBEBE"/>
<circle cx="1138.8" cy="173.0" r="3.3" fill="#BEBEBE"/>
<circle cx="1140.7" cy="145.5" r="3.3" fill="#BEBEBE"/>
<circle cx="1152.5" cy="134.4" r="3.3" fill="#BEBEBE"/>
<circle cx="1149.9" cy="150.8" r="3.3" fill="#BEBEBE"/>
<circle cx="1157.1" cy="154.0" r="3.3" fill="#BEBEBE"/>
<circle cx="1163.6" cy="164.5" r="3.3" fill="#BEBEBE"/>
<circle cx="1164.9" cy="169.1" r="3.3" fill="#BEBEBE"/>
<circle cx="841.7" cy="183.1" r="3.3" fill="#BEBEBE"/>
<circle cx="839.8" cy="204.1" r="3.3" fill="#BEBEBE"/>
<circle cx="922.0" cy="168.1" r="3.3" fill="#BEBEBE"/>
<circle cx="920.7" cy="174.6" r="3.3" fill="#BEBEBE"/>
<circle cx="922.0" cy="180.5" r="3.3" fill="#BEBEBE"/>
<circle cx="910.2" cy="196.9" r="3.3" fill="#BEBEBE"/>
<circle cx="927.3" cy="193.0" r="3.3" fill="#BEBEBE"/>
<circle cx="929.2" cy="203.4" r="3.3" fill="#BEBEBE"/>
<circle cx="954.7" cy="182.5" r="3.3" fill="#BEBEBE"/>
<circle cx="939.7" cy="185.8" r="3.3" fill="#BEBEBE"/>
<circle cx="948.2" cy="187.1" r="3.3" fill="#BEBEBE"/>
<circle cx="939.7" cy="196.9" r="3.3" fill="#BEBEBE"/>
<circle cx="966.5" cy="194.9" r="3.3" fill="#BEBEBE"/>
<circle cx="974.4" cy="186.4" r="3.3" fill="#BEBEBE"/>
<circle cx="982.9" cy="191.6" r="3.3" fill="#BEBEBE"/>
<circle cx="978.3" cy="196.9" r="3.3" fill="#BEBEBE"/>
<circle cx="944.3" cy="160.9" r="3.3" fill="#BEBEBE"/>
<circle cx="937.7" cy="164.2" r="3.3" fill="#BEBEBE"/>
<circle cx="927.3" cy="157.6" r="3.3" fill="#BEBEBE"/>
<circle cx="958.7" cy="168.1" r="3.3" fill="#BEBEBE"/>
<circle cx="973.1" cy="162.9" r="3.3" fill="#BEBEBE"/>
<circle cx="978.3" cy="158.9" r="3.3" fill="#BEBEBE"/>
<circle cx="982.2" cy="162.9" r="3.3" fill="#BEBEBE"/>
<circle cx="969.1" cy="157.6" r="3.3" fill="#BEBEBE"/>
<circle cx="1004.2" cy="166.1" r="3.3" fill="#BEBEBE"/>
<circle cx="1006.2" cy="161.5" r="3.3" fill="#BEBEBE"/>
<circle cx="1011.4" cy="156.3" r="3.3" fill="#BEBEBE"/>
<circle cx="1016.6" cy="168.1" r="3.3" fill="#BEBEBE"/>
<circle cx="1019.3" cy="165.5" r="3.3" fill="#BEBEBE"/>
<circle cx="1024.5" cy="160.2" r="3.3" fill="#BEBEBE"/>
<circle cx="1028.4" cy="158.3" r="3.3" fill="#BEBEBE"/>
<circle cx="1036.3" cy="156.3" r="3.3" fill="#BEBEBE"/>
<circle cx="1050.7" cy="157.0" r="3.3" fill="#BEBEBE"/>
<circle cx="1049.4" cy="163.5" r="3.3" fill="#BEBEBE"/>
<circle cx="1057.2" cy="173.3" r="3.3" fill="#BEBEBE"/>
<circle cx="1036.3" cy="173.3" r="3.3" fill="#BEBEBE"/>
<circle cx="982.0" cy="177.3" r="3.3" fill="#BEBEBE"/>
<circle cx="999.0" cy="174.6" r="3.3" fill="#BEBEBE"/>
<circle cx="1028.4" cy="181.2" r="3.3" fill="#BEBEBE"/>
<circle cx="1025.8" cy="185.1" r="3.3" fill="#BEBEBE"/>
<circle cx="1040.2" cy="186.4" r="3.3" fill="#BEBEBE"/>
<circle cx="1050.7" cy="179.9" r="3.3" fill="#BEBEBE"/>
<circle cx="981.3" cy="189.0" r="3.3" fill="#BEBEBE"/>
<circle cx="990.5" cy="190.3" r="3.3" fill="#BEBEBE"/>
<circle cx="1010.1" cy="189.0" r="3.3" fill="#BEBEBE"/>
<circle cx="987.9" cy="200.8" r="3.3" fill="#BEBEBE"/>
<circle cx="993.1" cy="204.7" r="3.3" fill="#BEBEBE"/>
<circle cx="1000.9" cy="206.0" r="3.3" fill="#BEBEBE"/>
<circle cx="1015.3" cy="200.8" r="3.3" fill="#BEBEBE"/>
<circle cx="1018.0" cy="204.7" r="3.3" fill="#BEBEBE"/>
<circle cx="1035.0" cy="202.1" r="3.3" fill="#BEBEBE"/>
<circle cx="1038.9" cy="203.4" r="3.3" fill="#BEBEBE"/>
<circle cx="1058.5" cy="198.2" r="3.3" fill="#BEBEBE"/>
<circle cx="982.6" cy="206.7" r="3.3" fill="#BEBEBE"/>
<circle cx="1057.0" cy="173.9" r="3.3" fill="#BEBEBE"/>
<circle cx="1072.0" cy="177.9" r="3.3" fill="#BEBEBE"/>
<circle cx="1070.7" cy="181.8" r="3.3" fill="#BEBEBE"/>
<circle cx="1062.9" cy="183.1" r="3.3" fill="#BEBEBE"/>
<circle cx="1082.5" cy="179.2" r="3.3" fill="#BEBEBE"/>
<circle cx="1087.1" cy="173.9" r="3.3" fill="#BEBEBE"/>
<circle cx="1084.5" cy="187.0" r="3.3" fill="#BEBEBE"/>
<circle cx="1087.1" cy="191.6" r="3.3" fill="#BEBEBE"/>
<circle cx="1081.8" cy="196.2" r="3.3" fill="#BEBEBE"/>
<circle cx="1105.4" cy="179.8" r="3.3" fill="#BEBEBE"/>
<circle cx="1104.1" cy="185.7" r="3.3" fill="#BEBEBE"/>
<circle cx="1106.7" cy="189.6" r="3.3" fill="#BEBEBE"/>
<circle cx="1115.2" cy="175.2" r="3.3" fill="#BEBEBE"/>
<circle cx="1093.0" cy="196.2" r="3.3" fill="#BEBEBE"/>
<circle cx="1098.2" cy="198.1" r="3.3" fill="#BEBEBE"/>
<circle cx="1104.7" cy="197.5" r="3.3" fill="#BEBEBE"/>
<circle cx="1122.4" cy="193.6" r="3.3" fill="#BEBEBE"/>
<circle cx="1132.2" cy="180.5" r="3.3" fill="#BEBEBE"/>
<circle cx="1138.8" cy="173.9" r="3.3" fill="#BEBEBE"/>
<circle cx="1141.4" cy="185.7" r="3.3" fill="#BEBEBE"/>
<circle cx="1142.0" cy="197.5" r="3.3" fill="#BEBEBE"/>
<circle cx="1155.8" cy="182.4" r="3.3" fill="#BEBEBE"/>
<circle cx="1164.9" cy="185.7" r="3.3" fill="#BEBEBE"/>
<circle cx="1166.9" cy="179.8" r="3.3" fill="#BEBEBE"/>
<circle cx="1158.4" cy="190.3" r="3.3" fill="#BEBEBE"/>
<circle cx="1111.3" cy="202.1" r="3.3" fill="#BEBEBE"/>
<circle cx="1115.2" cy="202.1" r="3.3" fill="#BEBEBE"/>
<circle cx="1126.3" cy="201.4" r="3.3" fill="#BEBEBE"/>
<circle cx="1123.1" cy="206.6" r="3.3" fill="#BEBEBE"/>
<circle cx="1110.0" cy="209.3" r="3.3" fill="#BEBEBE"/>
<circle cx="1115.2" cy="211.2" r="3.3" fill="#BEBEBE"/>
<circle cx="1108.7" cy="215.8" r="3.3" fill="#BEBEBE"/>
<circle cx="1128.3" cy="212.5" r="3.3" fill="#BEBEBE"/>
<circle cx="1141.4" cy="208.0" r="3.3" fill="#BEBEBE"/>
<circle cx="1142.7" cy="213.2" r="3.3" fill="#BEBEBE"/>
<circle cx="1159.7" cy="204.0" r="3.3" fill="#BEBEBE"/>
<circle cx="1158.4" cy="209.3" r="3.3" fill="#BEBEBE"/>
<circle cx="1167.6" cy="213.2" r="3.3" fill="#BEBEBE"/>
<circle cx="1064.8" cy="204.0" r="3.3" fill="#BEBEBE"/>
<circle cx="1068.1" cy="209.3" r="3.3" fill="#BEBEBE"/>
<circle cx="1070.7" cy="214.5" r="3.3" fill="#BEBEBE"/>
<circle cx="1082.5" cy="208.0" r="3.3" fill="#BEBEBE"/>
<circle cx="1059.6" cy="208.0" r="3.3" fill="#BEBEBE"/>
<circle cx="1095.6" cy="214.5" r="3.3" fill="#BEBEBE"/>
<circle cx="1144.0" cy="221.0" r="3.3" fill="#BEBEBE"/>
<circle cx="1057.6" cy="223.0" r="3.3" fill="#BEBEBE"/>
<circle cx="848.9" cy="231.2" r="3.3" fill="#BEBEBE"/>
<circle cx="875.1" cy="227.3" r="3.3" fill="#BEBEBE"/>
<circle cx="873.8" cy="233.8" r="3.3" fill="#BEBEBE"/>
<circle cx="867.3" cy="237.7" r="3.3" fill="#BEBEBE"/>
<circle cx="888.2" cy="227.3" r="3.3" fill="#BEBEBE"/>
<circle cx="885.6" cy="235.1" r="3.3" fill="#BEBEBE"/>
<circle cx="888.2" cy="240.3" r="3.3" fill="#BEBEBE"/>
<circle cx="898.7" cy="245.6" r="3.3" fill="#BEBEBE"/>
<circle cx="902.6" cy="245.6" r="3.3" fill="#BEBEBE"/>
<circle cx="839.1" cy="205.7" r="3.3" fill="#BEBEBE"/>
<circle cx="918.1" cy="216.8" r="3.3" fill="#BEBEBE"/>
<circle cx="908.9" cy="239.7" r="3.3" fill="#BEBEBE"/>
<circle cx="919.4" cy="229.9" r="3.3" fill="#BEBEBE"/>
<circle cx="941.6" cy="224.6" r="3.3" fill="#BEBEBE"/>
<circle cx="943.0" cy="212.9" r="3.3" fill="#BEBEBE"/>
<circle cx="937.7" cy="225.9" r="3.3" fill="#BEBEBE"/>
<circle cx="945.6" cy="243.0" r="3.3" fill="#BEBEBE"/>
<circle cx="966.5" cy="216.8" r="3.3" fill="#BEBEBE"/>
<circle cx="975.7" cy="212.9" r="3.3" fill="#BEBEBE"/>
<circle cx="966.5" cy="233.8" r="3.3" fill="#BEBEBE"/>
<circle cx="967.8" cy="229.9" r="3.3" fill="#BEBEBE"/>
<circle cx="960.0" cy="253.4" r="3.3" fill="#BEBEBE"/>
<circle cx="979.6" cy="228.6" r="3.3" fill="#BEBEBE"/>
<circle cx="978.3" cy="243.0" r="3.3" fill="#BEBEBE"/>
<circle cx="958.7" cy="206.3" r="3.3" fill="#BEBEBE"/>
<circle cx="987.9" cy="207.6" r="3.3" fill="#BEBEBE"/>
<circle cx="993.1" cy="210.2" r="3.3" fill="#BEBEBE"/>
<circle cx="1011.4" cy="207.0" r="3.3" fill="#BEBEBE"/>
<circle cx="1018.0" cy="207.0" r="3.3" fill="#BEBEBE"/>
<circle cx="1006.2" cy="218.1" r="3.3" fill="#BEBEBE"/>
<circle cx="1028.4" cy="212.9" r="3.3" fill="#BEBEBE"/>
<circle cx="995.7" cy="224.6" r="3.3" fill="#BEBEBE"/>
<circle cx="981.3" cy="228.6" r="3.3" fill="#BEBEBE"/>
<circle cx="1021.9" cy="231.2" r="3.3" fill="#BEBEBE"/>
<circle cx="1028.4" cy="233.8" r="3.3" fill="#BEBEBE"/>
<circle cx="1040.2" cy="222.0" r="3.3" fill="#BEBEBE"/>
<circle cx="1038.2" cy="228.6" r="3.3" fill="#BEBEBE"/>
<circle cx="1038.9" cy="236.4" r="3.3" fill="#BEBEBE"/>
<circle cx="997.0" cy="239.0" r="3.3" fill="#BEBEBE"/>
<circle cx="1024.5" cy="246.9" r="3.3" fill="#BEBEBE"/>
<circle cx="1012.7" cy="250.8" r="3.3" fill="#BEBEBE"/>
<circle cx="1016.6" cy="254.7" r="3.3" fill="#BEBEBE"/>
<circle cx="1035.0" cy="252.1" r="3.3" fill="#BEBEBE"/>
<circle cx="1040.2" cy="250.8" r="3.3" fill="#BEBEBE"/>
<circle cx="1055.9" cy="237.7" r="3.3" fill="#BEBEBE"/>
<circle cx="1057.2" cy="246.9" r="3.3" fill="#BEBEBE"/>
<circle cx="1055.9" cy="224.6" r="3.3" fill="#BEBEBE"/>
<circle cx="1057.6" cy="226.5" r="3.3" fill="#BEBEBE"/>
<circle cx="1056.3" cy="235.7" r="3.3" fill="#BEBEBE"/>
<circle cx="1060.2" cy="223.9" r="3.3" fill="#BEBEBE"/>
<circle cx="1086.4" cy="235.1" r="3.3" fill="#BEBEBE"/>
<circle cx="1096.9" cy="237.0" r="3.3" fill="#BEBEBE"/>
<circle cx="1099.5" cy="242.3" r="3.3" fill="#BEBEBE"/>
<circle cx="1105.4" cy="240.3" r="3.3" fill="#BEBEBE"/>
<circle cx="1110.0" cy="246.8" r="3.3" fill="#BEBEBE"/>
<circle cx="1103.4" cy="251.4" r="3.3" fill="#BEBEBE"/>
<circle cx="1118.5" cy="242.3" r="3.3" fill="#BEBEBE"/>
<circle cx="1107.4" cy="255.3" r="3.3" fill="#BEBEBE"/>
<circle cx="1113.9" cy="255.3" r="3.3" fill="#BEBEBE"/>
<circle cx="1121.8" cy="255.3" r="3.3" fill="#BEBEBE"/>
<circle cx="1120.4" cy="260.6" r="3.3" fill="#BEBEBE"/>
<circle cx="1119.8" cy="265.2" r="3.3" fill="#BEBEBE"/>
<circle cx="1116.5" cy="265.2" r="3.3" fill="#BEBEBE"/>
<circle cx="1127.6" cy="247.5" r="3.3" fill="#BEBEBE"/>
<circle cx="1140.7" cy="234.4" r="3.3" fill="#BEBEBE"/>
<circle cx="1146.0" cy="242.9" r="3.3" fill="#BEBEBE"/>
<circle cx="1144.0" cy="256.6" r="3.3" fill="#BEBEBE"/>
<circle cx="1157.7" cy="235.7" r="3.3" fill="#BEBEBE"/>
<circle cx="1166.3" cy="231.8" r="3.3" fill="#BEBEBE"/>
<circle cx="1086.4" cy="258.6" r="3.3" fill="#BEBEBE"/>
<circle cx="1058.3" cy="261.9" r="3.3" fill="#BEBEBE"/>
<circle cx="1068.1" cy="244.9" r="3.3" fill="#BEBEBE"/>
<circle cx="1131.6" cy="269.1" r="3.3" fill="#BEBEBE"/>
<circle cx="1157.7" cy="265.8" r="3.3" fill="#BEBEBE"/>
<circle cx="1073.3" cy="272.4" r="3.3" fill="#BEBEBE"/>
<circle cx="1142.7" cy="221.3" r="3.3" fill="#BEBEBE"/>
<circle cx="843.7" cy="267.4" r="3.3" fill="#BEBEBE"/>
<circle cx="1006.2" cy="258.9" r="3.3" fill="#BEBEBE"/>
<circle cx="1029.7" cy="260.2" r="3.3" fill="#BEBEBE"/>
<circle cx="1058.5" cy="261.5" r="3.3" fill="#BEBEBE"/>
<circle cx="1073.3" cy="272.2" r="3.3" fill="#BEBEBE"/>
<circle cx="1096.9" cy="270.2" r="3.3" fill="#BEBEBE"/>
<circle cx="1117.8" cy="265.7" r="3.3" fill="#BEBEBE"/>
<circle cx="1121.1" cy="265.7" r="3.3" fill="#BEBEBE"/>
<circle cx="1111.3" cy="280.1" r="3.3" fill="#BEBEBE"/>
<circle cx="1131.6" cy="269.6" r="3.3" fill="#BEBEBE"/>
<circle cx="1157.7" cy="266.3" r="3.3" fill="#BEBEBE"/>
<line x1="1002.7" y1="352.7" x2="1002.7" y2="50.0" stroke="#000" stroke-width="2" stroke-dasharray="9.55 9.55"/>
<text x="921.8" y="79.6" text-anchor="middle" font-size="20.8" fill="#000" stroke="#000" stroke-width="0.3">&lt;14 days</text>
<text x="924.9" y="110.2" text-anchor="middle" font-size="21" fill="#000" stroke="#000" stroke-width="0.3">PNA</text>
<text x="1084.2" y="79.6" text-anchor="middle" font-size="20.8" fill="#000" stroke="#000" stroke-width="0.3">&gt;=14 days</text>
<text x="1087.3" y="110.2" text-anchor="middle" font-size="21" fill="#000" stroke="#000" stroke-width="0.3">PNA</text>
<rect x="820.8" y="50.0" width="365.3" height="302.7" fill="none" stroke="#333" stroke-width="1.6"/>
<rect x="820.8" y="14.0" width="365.3" height="36.0" fill="#D9D9D9" stroke="#333" stroke-width="1.6"/>
<text x="1003.4" y="37.8" text-anchor="middle" font-size="15.5" fill="#1A1A1A">35-44w PMA</text>
<line x1="840.3" y1="352.7" x2="840.3" y2="359.7" stroke="#333" stroke-width="2"/>
<text x="840.3" y="376.6" text-anchor="middle" font-size="15.5" fill="#4D4D4D">0</text>
<line x1="956.3" y1="352.7" x2="956.3" y2="359.7" stroke="#333" stroke-width="2"/>
<text x="956.3" y="376.6" text-anchor="middle" font-size="15.5" fill="#4D4D4D">10</text>
<line x1="1072.3" y1="352.7" x2="1072.3" y2="359.7" stroke="#333" stroke-width="2"/>
<text x="1072.3" y="376.6" text-anchor="middle" font-size="15.5" fill="#4D4D4D">20</text>
<line x1="53.3" y1="339.5" x2="60.8" y2="339.5" stroke="#333" stroke-width="2"/>
<text x="47.5" y="345.0" text-anchor="end" font-size="15.5" fill="#4D4D4D">0</text>
<line x1="53.3" y1="247.5" x2="60.8" y2="247.5" stroke="#333" stroke-width="2"/>
<text x="47.5" y="253.0" text-anchor="end" font-size="15.5" fill="#4D4D4D">2</text>
<line x1="53.3" y1="155.6" x2="60.8" y2="155.6" stroke="#333" stroke-width="2"/>
<text x="47.5" y="161.1" text-anchor="end" font-size="15.5" fill="#4D4D4D">4</text>
<line x1="53.3" y1="63.6" x2="60.8" y2="63.6" stroke="#333" stroke-width="2"/>
<text x="47.5" y="69.1" text-anchor="end" font-size="15.5" fill="#4D4D4D">6</text>
<text x="623" y="402.3" text-anchor="middle" font-size="20" fill="#000" stroke="#000" stroke-width="0.25">postnatal age (days)</text>
<text transform="translate(28.6 201.6) rotate(-90)" text-anchor="middle" font-size="19.8" fill="#000" stroke="#000" stroke-width="0.25">birth weight (kg)</text>
</svg></body></html>
